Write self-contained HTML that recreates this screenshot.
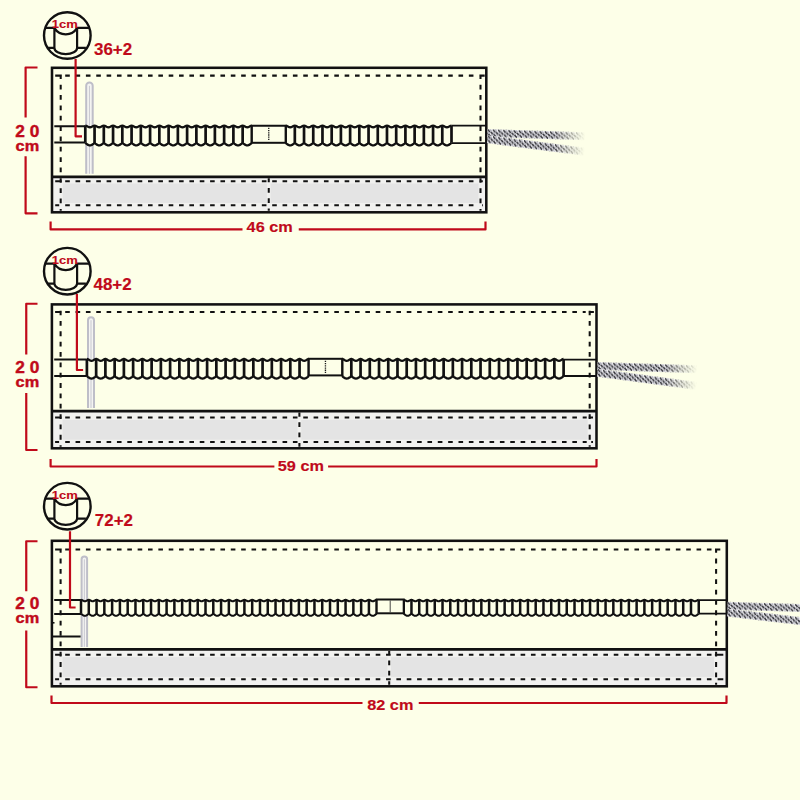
<!DOCTYPE html><html><head><meta charset="utf-8"><style>html,body{margin:0;padding:0;background:#FDFFE8;}svg{display:block;font-family:"Liberation Sans",sans-serif;}</style></head><body>
<svg width="800" height="800" viewBox="0 0 800 800">
<defs>
<pattern id="braid" width="5.2" height="8" patternUnits="userSpaceOnUse" y="-4"><rect width="5.2" height="8" fill="#EEEEF0"/><path d="M0.6,0.9 L2.0,2.4 M3.6,3.2 L5.0,4.7 M-1.6,3.2 L-0.2,4.7 M1.5,5.6 L2.9,7.1" stroke="#2E2E34" stroke-width="1.5" stroke-linecap="round"/><path d="M2.9,0.9 L4.1,2.2 M0.9,3.3 L2.1,4.6 M4.0,5.8 L5.2,7.1 M-1.2,5.8 L0,7.1" stroke="#A0A0AE" stroke-width="0.9" stroke-linecap="round"/></pattern>
<linearGradient id="grr1" x1="0" y1="0" x2="98" y2="0" gradientUnits="userSpaceOnUse"><stop offset="0" stop-color="#fff"/><stop offset="0.68" stop-color="#fff"/><stop offset="1" stop-color="#000"/></linearGradient>
<mask id="mr1" maskUnits="userSpaceOnUse" x="-5" y="-20" width="108" height="40"><rect x="-5" y="-20" width="108" height="40" fill="url(#grr1)"/></mask>
<linearGradient id="grr2" x1="0" y1="0" x2="100" y2="0" gradientUnits="userSpaceOnUse"><stop offset="0" stop-color="#fff"/><stop offset="0.68" stop-color="#fff"/><stop offset="1" stop-color="#000"/></linearGradient>
<mask id="mr2" maskUnits="userSpaceOnUse" x="-5" y="-20" width="110" height="40"><rect x="-5" y="-20" width="110" height="40" fill="url(#grr2)"/></mask>
<linearGradient id="grr3" x1="0" y1="0" x2="200" y2="0" gradientUnits="userSpaceOnUse"><stop offset="0" stop-color="#fff"/><stop offset="0.9" stop-color="#fff"/><stop offset="1" stop-color="#000"/></linearGradient>
<mask id="mr3" maskUnits="userSpaceOnUse" x="-5" y="-20" width="210" height="40"><rect x="-5" y="-20" width="210" height="40" fill="url(#grr3)"/></mask>
</defs>
<rect width="800" height="800" fill="#FDFFE8"/>
<rect x="52" y="176.8" width="434.3" height="35.5" fill="#F1F1EF"/><rect x="62.7" y="183.5" width="415.8" height="19.4" fill="#E4E4E4"/><line x1="268.75" y1="176.8" x2="268.75" y2="212.3" stroke="#F1F1EF" stroke-width="3.6"/><clipPath id="cp67"><rect x="52" y="176.8" width="434.3" height="35.5"/></clipPath><path d="M55.2,75.6H59.45 M65.2,75.6H69.8 M75.55,75.6H80.15 M85.9,75.6H90.5 M96.25,75.6H100.85 M106.6,75.6H111.2 M116.95,75.6H121.55 M127.3,75.6H131.9 M137.65,75.6H142.25 M148,75.6H152.6 M158.35,75.6H162.95 M168.7,75.6H173.3 M179.05,75.6H183.65 M189.4,75.6H194 M199.75,75.6H204.35 M210.1,75.6H214.7 M220.45,75.6H225.05 M230.8,75.6H235.4 M241.15,75.6H245.75 M251.5,75.6H256.1 M261.85,75.6H266.45 M272.2,75.6H276.8 M282.55,75.6H287.15 M292.9,75.6H297.5 M303.25,75.6H307.85 M313.6,75.6H318.2 M323.95,75.6H328.55 M334.3,75.6H338.9 M344.65,75.6H349.25 M355,75.6H359.6 M365.35,75.6H369.95 M375.7,75.6H380.3 M386.05,75.6H390.65 M396.4,75.6H401 M406.75,75.6H411.35 M417.1,75.6H421.7 M427.45,75.6H432.05 M437.8,75.6H442.4 M448.15,75.6H452.75 M458.5,75.6H463.1 M468.85,75.6H473.45 M55.2,75.6H61.8M60.7,74.5V78.9 M480.5,78.9V74.5M479.4,75.6H484.7 M60.7,84.7V89.5 M60.7,95.05V99.85 M60.7,105.4V110.2 M60.7,115.75V120.55 M60.7,126.1V130.9 M60.7,136.45V141.25 M60.7,146.8V151.6 M60.7,157.15V161.95 M60.7,167.5V172.3 M480.5,84.7V89.5 M480.5,95.05V99.85 M480.5,105.4V110.2 M480.5,115.75V120.55 M480.5,126.1V130.9 M480.5,136.45V141.25 M480.5,146.8V151.6 M480.5,157.15V161.95 M480.5,167.5V172.3 M60.7,178.3V182.65 M60.7,188.2V193 M60.7,198.55V203.35 M60.7,208.9V210.8 M480.5,178.3V182.65 M480.5,188.2V193 M480.5,198.55V203.35 M480.5,208.9V210.8 M65.2,181.2H69.8 M75.55,181.2H80.15 M85.9,181.2H90.5 M96.25,181.2H100.85 M106.6,181.2H111.2 M116.95,181.2H121.55 M127.3,181.2H131.9 M137.65,181.2H142.25 M148,181.2H152.6 M158.35,181.2H162.95 M168.7,181.2H173.3 M179.05,181.2H183.65 M189.4,181.2H194 M199.75,181.2H204.35 M210.1,181.2H214.7 M220.45,181.2H225.05 M230.8,181.2H235.4 M241.15,181.2H245.75 M251.5,181.2H256.1 M261.85,181.2H266.45 M272.2,181.2H276.8 M282.55,181.2H287.15 M292.9,181.2H297.5 M303.25,181.2H307.85 M313.6,181.2H318.2 M323.95,181.2H328.55 M334.3,181.2H338.9 M344.65,181.2H349.25 M355,181.2H359.6 M365.35,181.2H369.95 M375.7,181.2H380.3 M386.05,181.2H390.65 M396.4,181.2H401 M406.75,181.2H411.35 M417.1,181.2H421.7 M427.45,181.2H432.05 M437.8,181.2H442.4 M448.15,181.2H452.75 M458.5,181.2H463.1 M468.85,181.2H473.45 M65.2,205.2H69.8 M75.55,205.2H80.15 M85.9,205.2H90.5 M96.25,205.2H100.85 M106.6,205.2H111.2 M116.95,205.2H121.55 M127.3,205.2H131.9 M137.65,205.2H142.25 M148,205.2H152.6 M158.35,205.2H162.95 M168.7,205.2H173.3 M179.05,205.2H183.65 M189.4,205.2H194 M199.75,205.2H204.35 M210.1,205.2H214.7 M220.45,205.2H225.05 M230.8,205.2H235.4 M241.15,205.2H245.75 M251.5,205.2H256.1 M261.85,205.2H266.45 M272.2,205.2H276.8 M282.55,205.2H287.15 M292.9,205.2H297.5 M303.25,205.2H307.85 M313.6,205.2H318.2 M323.95,205.2H328.55 M334.3,205.2H338.9 M344.65,205.2H349.25 M355,205.2H359.6 M365.35,205.2H369.95 M375.7,205.2H380.3 M386.05,205.2H390.65 M396.4,205.2H401 M406.75,205.2H411.35 M417.1,205.2H421.7 M427.45,205.2H432.05 M437.8,205.2H442.4 M448.15,205.2H452.75 M458.5,205.2H463.1 M468.85,205.2H473.45 M55.2,181.2H61.9 M55.2,205.2H59.2 M479.3,181.2H482.8 M482,205.2H482.8 M268.75,178.3V182.35 M268.75,187.9V192.7 M268.75,198.25V203.05 M268.75,208.6V210.8" fill="none" stroke="#111" stroke-width="2.05"/><path d="M86.2,173.8 L86.2,85.85 A3.25,3.25 0 0 1 92.7,85.85 L92.7,173.8" fill="#F4F4F2" stroke="#BEBEC8" stroke-width="2"/><line x1="89.45" y1="85.85" x2="89.45" y2="173.8" stroke="#BEBEC8" stroke-width="0.8"/><path d="M54.3,126.2L85.3,126.2M54.3,142.5L85.3,142.5" stroke="#111" stroke-width="2" fill="none"/><path d="M85.3,125.6 L86.23,125.77 L87.15,126.22 L88.08,126.78 L89,127.23 L89.93,127.4 L90.85,127.23 L91.78,126.78 L92.7,126.22 L93.63,125.77 L94.56,125.6 L95.48,125.77 L96.41,126.22 L97.33,126.78 L98.26,127.23 L99.18,127.4 L100.11,127.23 L101.03,126.78 L101.96,126.22 L102.89,125.77 L103.81,125.6 L104.74,125.77 L105.66,126.22 L106.59,126.78 L107.51,127.23 L108.44,127.4 L109.36,127.23 L110.29,126.78 L111.22,126.22 L112.14,125.77 L113.07,125.6 L113.99,125.77 L114.92,126.22 L115.84,126.78 L116.77,127.23 L117.69,127.4 L118.62,127.23 L119.55,126.78 L120.47,126.22 L121.4,125.77 L122.32,125.6 L123.25,125.77 L124.17,126.22 L125.1,126.78 L126.02,127.23 L126.95,127.4 L127.88,127.23 L128.8,126.78 L129.73,126.22 L130.65,125.77 L131.58,125.6 L132.5,125.77 L133.43,126.22 L134.35,126.78 L135.28,127.23 L136.21,127.4 L137.13,127.23 L138.06,126.78 L138.98,126.22 L139.91,125.77 L140.83,125.6 L141.76,125.77 L142.68,126.22 L143.61,126.78 L144.54,127.23 L145.46,127.4 L146.39,127.23 L147.31,126.78 L148.24,126.22 L149.16,125.77 L150.09,125.6 L151.01,125.77 L151.94,126.22 L152.87,126.78 L153.79,127.23 L154.72,127.4 L155.64,127.23 L156.57,126.78 L157.49,126.22 L158.42,125.77 L159.34,125.6 L160.27,125.77 L161.2,126.22 L162.12,126.78 L163.05,127.23 L163.97,127.4 L164.9,127.23 L165.82,126.78 L166.75,126.22 L167.67,125.77 L168.6,125.6 L169.53,125.77 L170.45,126.22 L171.38,126.78 L172.3,127.23 L173.23,127.4 L174.15,127.23 L175.08,126.78 L176,126.22 L176.93,125.77 L177.86,125.6 L178.78,125.77 L179.71,126.22 L180.63,126.78 L181.56,127.23 L182.48,127.4 L183.41,127.23 L184.33,126.78 L185.26,126.22 L186.19,125.77 L187.11,125.6 L188.04,125.77 L188.96,126.22 L189.89,126.78 L190.81,127.23 L191.74,127.4 L192.66,127.23 L193.59,126.78 L194.52,126.22 L195.44,125.77 L196.37,125.6 L197.29,125.77 L198.22,126.22 L199.14,126.78 L200.07,127.23 L200.99,127.4 L201.92,127.23 L202.85,126.78 L203.77,126.22 L204.7,125.77 L205.62,125.6 L206.55,125.77 L207.47,126.22 L208.4,126.78 L209.32,127.23 L210.25,127.4 L211.18,127.23 L212.1,126.78 L213.03,126.22 L213.95,125.77 L214.88,125.6 L215.8,125.77 L216.73,126.22 L217.65,126.78 L218.58,127.23 L219.51,127.4 L220.43,127.23 L221.36,126.78 L222.28,126.22 L223.21,125.77 L224.13,125.6 L225.06,125.77 L225.98,126.22 L226.91,126.78 L227.84,127.23 L228.76,127.4 L229.69,127.23 L230.61,126.78 L231.54,126.22 L232.46,125.77 L233.39,125.6 L234.31,125.77 L235.24,126.22 L236.17,126.78 L237.09,127.23 L238.02,127.4 L238.94,127.23 L239.87,126.78 L240.79,126.22 L241.72,125.77 L242.64,125.6 L243.57,125.77 L244.5,126.22 L245.42,126.78 L246.35,127.23 L247.27,127.4 L248.2,127.23 L249.12,126.78 L250.05,126.22 L250.97,125.77 L251.9,125.6 L251.9,142.8 L250.97,143.6 L250.05,144.33 L249.12,144.9 L248.2,145.27 L247.27,145.4 L246.35,145.27 L245.42,144.9 L244.5,144.33 L243.57,143.6 L242.64,142.8 L241.72,143.6 L240.79,144.33 L239.87,144.9 L238.94,145.27 L238.02,145.4 L237.09,145.27 L236.17,144.9 L235.24,144.33 L234.31,143.6 L233.39,142.8 L232.46,143.6 L231.54,144.33 L230.61,144.9 L229.69,145.27 L228.76,145.4 L227.84,145.27 L226.91,144.9 L225.98,144.33 L225.06,143.6 L224.13,142.8 L223.21,143.6 L222.28,144.33 L221.36,144.9 L220.43,145.27 L219.51,145.4 L218.58,145.27 L217.65,144.9 L216.73,144.33 L215.8,143.6 L214.88,142.8 L213.95,143.6 L213.03,144.33 L212.1,144.9 L211.18,145.27 L210.25,145.4 L209.32,145.27 L208.4,144.9 L207.47,144.33 L206.55,143.6 L205.62,142.8 L204.7,143.6 L203.77,144.33 L202.85,144.9 L201.92,145.27 L200.99,145.4 L200.07,145.27 L199.14,144.9 L198.22,144.33 L197.29,143.6 L196.37,142.8 L195.44,143.6 L194.52,144.33 L193.59,144.9 L192.66,145.27 L191.74,145.4 L190.81,145.27 L189.89,144.9 L188.96,144.33 L188.04,143.6 L187.11,142.8 L186.19,143.6 L185.26,144.33 L184.33,144.9 L183.41,145.27 L182.48,145.4 L181.56,145.27 L180.63,144.9 L179.71,144.33 L178.78,143.6 L177.86,142.8 L176.93,143.6 L176,144.33 L175.08,144.9 L174.15,145.27 L173.23,145.4 L172.3,145.27 L171.38,144.9 L170.45,144.33 L169.53,143.6 L168.6,142.8 L167.67,143.6 L166.75,144.33 L165.82,144.9 L164.9,145.27 L163.97,145.4 L163.05,145.27 L162.12,144.9 L161.2,144.33 L160.27,143.6 L159.34,142.8 L158.42,143.6 L157.49,144.33 L156.57,144.9 L155.64,145.27 L154.72,145.4 L153.79,145.27 L152.87,144.9 L151.94,144.33 L151.01,143.6 L150.09,142.8 L149.16,143.6 L148.24,144.33 L147.31,144.9 L146.39,145.27 L145.46,145.4 L144.54,145.27 L143.61,144.9 L142.68,144.33 L141.76,143.6 L140.83,142.8 L139.91,143.6 L138.98,144.33 L138.06,144.9 L137.13,145.27 L136.21,145.4 L135.28,145.27 L134.35,144.9 L133.43,144.33 L132.5,143.6 L131.58,142.8 L130.65,143.6 L129.73,144.33 L128.8,144.9 L127.88,145.27 L126.95,145.4 L126.02,145.27 L125.1,144.9 L124.17,144.33 L123.25,143.6 L122.32,142.8 L121.4,143.6 L120.47,144.33 L119.55,144.9 L118.62,145.27 L117.69,145.4 L116.77,145.27 L115.84,144.9 L114.92,144.33 L113.99,143.6 L113.07,142.8 L112.14,143.6 L111.22,144.33 L110.29,144.9 L109.36,145.27 L108.44,145.4 L107.51,145.27 L106.59,144.9 L105.66,144.33 L104.74,143.6 L103.81,142.8 L102.89,143.6 L101.96,144.33 L101.03,144.9 L100.11,145.27 L99.18,145.4 L98.26,145.27 L97.33,144.9 L96.41,144.33 L95.48,143.6 L94.56,142.8 L93.63,143.6 L92.7,144.33 L91.78,144.9 L90.85,145.27 L89.93,145.4 L89,145.27 L88.08,144.9 L87.15,144.33 L86.23,143.6 L85.3,142.8 Z" fill="#FDFFE8"/><path d="M85.3,125.6 L86.23,125.77 L87.15,126.22 L88.08,126.78 L89,127.23 L89.93,127.4 L90.85,127.23 L91.78,126.78 L92.7,126.22 L93.63,125.77 L94.56,125.6 L95.48,125.77 L96.41,126.22 L97.33,126.78 L98.26,127.23 L99.18,127.4 L100.11,127.23 L101.03,126.78 L101.96,126.22 L102.89,125.77 L103.81,125.6 L104.74,125.77 L105.66,126.22 L106.59,126.78 L107.51,127.23 L108.44,127.4 L109.36,127.23 L110.29,126.78 L111.22,126.22 L112.14,125.77 L113.07,125.6 L113.99,125.77 L114.92,126.22 L115.84,126.78 L116.77,127.23 L117.69,127.4 L118.62,127.23 L119.55,126.78 L120.47,126.22 L121.4,125.77 L122.32,125.6 L123.25,125.77 L124.17,126.22 L125.1,126.78 L126.02,127.23 L126.95,127.4 L127.88,127.23 L128.8,126.78 L129.73,126.22 L130.65,125.77 L131.58,125.6 L132.5,125.77 L133.43,126.22 L134.35,126.78 L135.28,127.23 L136.21,127.4 L137.13,127.23 L138.06,126.78 L138.98,126.22 L139.91,125.77 L140.83,125.6 L141.76,125.77 L142.68,126.22 L143.61,126.78 L144.54,127.23 L145.46,127.4 L146.39,127.23 L147.31,126.78 L148.24,126.22 L149.16,125.77 L150.09,125.6 L151.01,125.77 L151.94,126.22 L152.87,126.78 L153.79,127.23 L154.72,127.4 L155.64,127.23 L156.57,126.78 L157.49,126.22 L158.42,125.77 L159.34,125.6 L160.27,125.77 L161.2,126.22 L162.12,126.78 L163.05,127.23 L163.97,127.4 L164.9,127.23 L165.82,126.78 L166.75,126.22 L167.67,125.77 L168.6,125.6 L169.53,125.77 L170.45,126.22 L171.38,126.78 L172.3,127.23 L173.23,127.4 L174.15,127.23 L175.08,126.78 L176,126.22 L176.93,125.77 L177.86,125.6 L178.78,125.77 L179.71,126.22 L180.63,126.78 L181.56,127.23 L182.48,127.4 L183.41,127.23 L184.33,126.78 L185.26,126.22 L186.19,125.77 L187.11,125.6 L188.04,125.77 L188.96,126.22 L189.89,126.78 L190.81,127.23 L191.74,127.4 L192.66,127.23 L193.59,126.78 L194.52,126.22 L195.44,125.77 L196.37,125.6 L197.29,125.77 L198.22,126.22 L199.14,126.78 L200.07,127.23 L200.99,127.4 L201.92,127.23 L202.85,126.78 L203.77,126.22 L204.7,125.77 L205.62,125.6 L206.55,125.77 L207.47,126.22 L208.4,126.78 L209.32,127.23 L210.25,127.4 L211.18,127.23 L212.1,126.78 L213.03,126.22 L213.95,125.77 L214.88,125.6 L215.8,125.77 L216.73,126.22 L217.65,126.78 L218.58,127.23 L219.51,127.4 L220.43,127.23 L221.36,126.78 L222.28,126.22 L223.21,125.77 L224.13,125.6 L225.06,125.77 L225.98,126.22 L226.91,126.78 L227.84,127.23 L228.76,127.4 L229.69,127.23 L230.61,126.78 L231.54,126.22 L232.46,125.77 L233.39,125.6 L234.31,125.77 L235.24,126.22 L236.17,126.78 L237.09,127.23 L238.02,127.4 L238.94,127.23 L239.87,126.78 L240.79,126.22 L241.72,125.77 L242.64,125.6 L243.57,125.77 L244.5,126.22 L245.42,126.78 L246.35,127.23 L247.27,127.4 L248.2,127.23 L249.12,126.78 L250.05,126.22 L250.97,125.77 L251.9,125.6 M85.3,142.8 L86.23,143.6 L87.15,144.33 L88.08,144.9 L89,145.27 L89.93,145.4 L90.85,145.27 L91.78,144.9 L92.7,144.33 L93.63,143.6 L94.56,142.8 L95.48,143.6 L96.41,144.33 L97.33,144.9 L98.26,145.27 L99.18,145.4 L100.11,145.27 L101.03,144.9 L101.96,144.33 L102.89,143.6 L103.81,142.8 L104.74,143.6 L105.66,144.33 L106.59,144.9 L107.51,145.27 L108.44,145.4 L109.36,145.27 L110.29,144.9 L111.22,144.33 L112.14,143.6 L113.07,142.8 L113.99,143.6 L114.92,144.33 L115.84,144.9 L116.77,145.27 L117.69,145.4 L118.62,145.27 L119.55,144.9 L120.47,144.33 L121.4,143.6 L122.32,142.8 L123.25,143.6 L124.17,144.33 L125.1,144.9 L126.02,145.27 L126.95,145.4 L127.88,145.27 L128.8,144.9 L129.73,144.33 L130.65,143.6 L131.58,142.8 L132.5,143.6 L133.43,144.33 L134.35,144.9 L135.28,145.27 L136.21,145.4 L137.13,145.27 L138.06,144.9 L138.98,144.33 L139.91,143.6 L140.83,142.8 L141.76,143.6 L142.68,144.33 L143.61,144.9 L144.54,145.27 L145.46,145.4 L146.39,145.27 L147.31,144.9 L148.24,144.33 L149.16,143.6 L150.09,142.8 L151.01,143.6 L151.94,144.33 L152.87,144.9 L153.79,145.27 L154.72,145.4 L155.64,145.27 L156.57,144.9 L157.49,144.33 L158.42,143.6 L159.34,142.8 L160.27,143.6 L161.2,144.33 L162.12,144.9 L163.05,145.27 L163.97,145.4 L164.9,145.27 L165.82,144.9 L166.75,144.33 L167.67,143.6 L168.6,142.8 L169.53,143.6 L170.45,144.33 L171.38,144.9 L172.3,145.27 L173.23,145.4 L174.15,145.27 L175.08,144.9 L176,144.33 L176.93,143.6 L177.86,142.8 L178.78,143.6 L179.71,144.33 L180.63,144.9 L181.56,145.27 L182.48,145.4 L183.41,145.27 L184.33,144.9 L185.26,144.33 L186.19,143.6 L187.11,142.8 L188.04,143.6 L188.96,144.33 L189.89,144.9 L190.81,145.27 L191.74,145.4 L192.66,145.27 L193.59,144.9 L194.52,144.33 L195.44,143.6 L196.37,142.8 L197.29,143.6 L198.22,144.33 L199.14,144.9 L200.07,145.27 L200.99,145.4 L201.92,145.27 L202.85,144.9 L203.77,144.33 L204.7,143.6 L205.62,142.8 L206.55,143.6 L207.47,144.33 L208.4,144.9 L209.32,145.27 L210.25,145.4 L211.18,145.27 L212.1,144.9 L213.03,144.33 L213.95,143.6 L214.88,142.8 L215.8,143.6 L216.73,144.33 L217.65,144.9 L218.58,145.27 L219.51,145.4 L220.43,145.27 L221.36,144.9 L222.28,144.33 L223.21,143.6 L224.13,142.8 L225.06,143.6 L225.98,144.33 L226.91,144.9 L227.84,145.27 L228.76,145.4 L229.69,145.27 L230.61,144.9 L231.54,144.33 L232.46,143.6 L233.39,142.8 L234.31,143.6 L235.24,144.33 L236.17,144.9 L237.09,145.27 L238.02,145.4 L238.94,145.27 L239.87,144.9 L240.79,144.33 L241.72,143.6 L242.64,142.8 L243.57,143.6 L244.5,144.33 L245.42,144.9 L246.35,145.27 L247.27,145.4 L248.2,145.27 L249.12,144.9 L250.05,144.33 L250.97,143.6 L251.9,142.8" fill="none" stroke="#111" stroke-width="2.3" stroke-linejoin="round"/><path d="M85.3,125.6L85.3,142.8M94.56,125.6L94.56,142.8M103.81,125.6L103.81,142.8M113.07,125.6L113.07,142.8M122.32,125.6L122.32,142.8M131.58,125.6L131.58,142.8M140.83,125.6L140.83,142.8M150.09,125.6L150.09,142.8M159.34,125.6L159.34,142.8M168.6,125.6L168.6,142.8M177.86,125.6L177.86,142.8M187.11,125.6L187.11,142.8M196.37,125.6L196.37,142.8M205.62,125.6L205.62,142.8M214.88,125.6L214.88,142.8M224.13,125.6L224.13,142.8M233.39,125.6L233.39,142.8M242.64,125.6L242.64,142.8M251.9,125.6L251.9,142.8" fill="none" stroke="#111" stroke-width="2.7"/><path d="M285.6,125.6 L286.52,125.77 L287.44,126.22 L288.37,126.78 L289.29,127.23 L290.21,127.4 L291.13,127.23 L292.05,126.78 L292.97,126.22 L293.9,125.77 L294.82,125.6 L295.74,125.77 L296.66,126.22 L297.58,126.78 L298.5,127.23 L299.43,127.4 L300.35,127.23 L301.27,126.78 L302.19,126.22 L303.11,125.77 L304.03,125.6 L304.96,125.77 L305.88,126.22 L306.8,126.78 L307.72,127.23 L308.64,127.4 L309.56,127.23 L310.49,126.78 L311.41,126.22 L312.33,125.77 L313.25,125.6 L314.17,125.77 L315.09,126.22 L316.01,126.78 L316.94,127.23 L317.86,127.4 L318.78,127.23 L319.7,126.78 L320.62,126.22 L321.55,125.77 L322.47,125.6 L323.39,125.77 L324.31,126.22 L325.23,126.78 L326.15,127.23 L327.08,127.4 L328,127.23 L328.92,126.78 L329.84,126.22 L330.76,125.77 L331.68,125.6 L332.61,125.77 L333.53,126.22 L334.45,126.78 L335.37,127.23 L336.29,127.4 L337.21,127.23 L338.13,126.78 L339.06,126.22 L339.98,125.77 L340.9,125.6 L341.82,125.77 L342.74,126.22 L343.67,126.78 L344.59,127.23 L345.51,127.4 L346.43,127.23 L347.35,126.78 L348.27,126.22 L349.19,125.77 L350.12,125.6 L351.04,125.77 L351.96,126.22 L352.88,126.78 L353.8,127.23 L354.73,127.4 L355.65,127.23 L356.57,126.78 L357.49,126.22 L358.41,125.77 L359.33,125.6 L360.25,125.77 L361.18,126.22 L362.1,126.78 L363.02,127.23 L363.94,127.4 L364.86,127.23 L365.78,126.78 L366.71,126.22 L367.63,125.77 L368.55,125.6 L369.47,125.77 L370.39,126.22 L371.31,126.78 L372.24,127.23 L373.16,127.4 L374.08,127.23 L375,126.78 L375.92,126.22 L376.85,125.77 L377.77,125.6 L378.69,125.77 L379.61,126.22 L380.53,126.78 L381.45,127.23 L382.38,127.4 L383.3,127.23 L384.22,126.78 L385.14,126.22 L386.06,125.77 L386.98,125.6 L387.9,125.77 L388.83,126.22 L389.75,126.78 L390.67,127.23 L391.59,127.4 L392.51,127.23 L393.44,126.78 L394.36,126.22 L395.28,125.77 L396.2,125.6 L397.12,125.77 L398.04,126.22 L398.97,126.78 L399.89,127.23 L400.81,127.4 L401.73,127.23 L402.65,126.78 L403.57,126.22 L404.5,125.77 L405.42,125.6 L406.34,125.77 L407.26,126.22 L408.18,126.78 L409.1,127.23 L410.02,127.4 L410.95,127.23 L411.87,126.78 L412.79,126.22 L413.71,125.77 L414.63,125.6 L415.56,125.77 L416.48,126.22 L417.4,126.78 L418.32,127.23 L419.24,127.4 L420.16,127.23 L421.08,126.78 L422.01,126.22 L422.93,125.77 L423.85,125.6 L424.77,125.77 L425.69,126.22 L426.62,126.78 L427.54,127.23 L428.46,127.4 L429.38,127.23 L430.3,126.78 L431.22,126.22 L432.14,125.77 L433.07,125.6 L433.99,125.77 L434.91,126.22 L435.83,126.78 L436.75,127.23 L437.67,127.4 L438.6,127.23 L439.52,126.78 L440.44,126.22 L441.36,125.77 L442.28,125.6 L443.21,125.77 L444.13,126.22 L445.05,126.78 L445.97,127.23 L446.89,127.4 L447.81,127.23 L448.74,126.78 L449.66,126.22 L450.58,125.77 L451.5,125.6 L451.5,142.8 L450.58,143.6 L449.66,144.33 L448.74,144.9 L447.81,145.27 L446.89,145.4 L445.97,145.27 L445.05,144.9 L444.13,144.33 L443.21,143.6 L442.28,142.8 L441.36,143.6 L440.44,144.33 L439.52,144.9 L438.6,145.27 L437.67,145.4 L436.75,145.27 L435.83,144.9 L434.91,144.33 L433.99,143.6 L433.07,142.8 L432.14,143.6 L431.22,144.33 L430.3,144.9 L429.38,145.27 L428.46,145.4 L427.54,145.27 L426.62,144.9 L425.69,144.33 L424.77,143.6 L423.85,142.8 L422.93,143.6 L422.01,144.33 L421.08,144.9 L420.16,145.27 L419.24,145.4 L418.32,145.27 L417.4,144.9 L416.48,144.33 L415.56,143.6 L414.63,142.8 L413.71,143.6 L412.79,144.33 L411.87,144.9 L410.95,145.27 L410.02,145.4 L409.1,145.27 L408.18,144.9 L407.26,144.33 L406.34,143.6 L405.42,142.8 L404.5,143.6 L403.57,144.33 L402.65,144.9 L401.73,145.27 L400.81,145.4 L399.89,145.27 L398.97,144.9 L398.04,144.33 L397.12,143.6 L396.2,142.8 L395.28,143.6 L394.36,144.33 L393.44,144.9 L392.51,145.27 L391.59,145.4 L390.67,145.27 L389.75,144.9 L388.83,144.33 L387.9,143.6 L386.98,142.8 L386.06,143.6 L385.14,144.33 L384.22,144.9 L383.3,145.27 L382.38,145.4 L381.45,145.27 L380.53,144.9 L379.61,144.33 L378.69,143.6 L377.77,142.8 L376.85,143.6 L375.92,144.33 L375,144.9 L374.08,145.27 L373.16,145.4 L372.24,145.27 L371.31,144.9 L370.39,144.33 L369.47,143.6 L368.55,142.8 L367.63,143.6 L366.71,144.33 L365.78,144.9 L364.86,145.27 L363.94,145.4 L363.02,145.27 L362.1,144.9 L361.18,144.33 L360.25,143.6 L359.33,142.8 L358.41,143.6 L357.49,144.33 L356.57,144.9 L355.65,145.27 L354.73,145.4 L353.8,145.27 L352.88,144.9 L351.96,144.33 L351.04,143.6 L350.12,142.8 L349.19,143.6 L348.27,144.33 L347.35,144.9 L346.43,145.27 L345.51,145.4 L344.59,145.27 L343.67,144.9 L342.74,144.33 L341.82,143.6 L340.9,142.8 L339.98,143.6 L339.06,144.33 L338.13,144.9 L337.21,145.27 L336.29,145.4 L335.37,145.27 L334.45,144.9 L333.53,144.33 L332.61,143.6 L331.68,142.8 L330.76,143.6 L329.84,144.33 L328.92,144.9 L328,145.27 L327.08,145.4 L326.15,145.27 L325.23,144.9 L324.31,144.33 L323.39,143.6 L322.47,142.8 L321.55,143.6 L320.62,144.33 L319.7,144.9 L318.78,145.27 L317.86,145.4 L316.94,145.27 L316.01,144.9 L315.09,144.33 L314.17,143.6 L313.25,142.8 L312.33,143.6 L311.41,144.33 L310.49,144.9 L309.56,145.27 L308.64,145.4 L307.72,145.27 L306.8,144.9 L305.88,144.33 L304.96,143.6 L304.03,142.8 L303.11,143.6 L302.19,144.33 L301.27,144.9 L300.35,145.27 L299.43,145.4 L298.5,145.27 L297.58,144.9 L296.66,144.33 L295.74,143.6 L294.82,142.8 L293.9,143.6 L292.97,144.33 L292.05,144.9 L291.13,145.27 L290.21,145.4 L289.29,145.27 L288.37,144.9 L287.44,144.33 L286.52,143.6 L285.6,142.8 Z" fill="#FDFFE8"/><path d="M285.6,125.6 L286.52,125.77 L287.44,126.22 L288.37,126.78 L289.29,127.23 L290.21,127.4 L291.13,127.23 L292.05,126.78 L292.97,126.22 L293.9,125.77 L294.82,125.6 L295.74,125.77 L296.66,126.22 L297.58,126.78 L298.5,127.23 L299.43,127.4 L300.35,127.23 L301.27,126.78 L302.19,126.22 L303.11,125.77 L304.03,125.6 L304.96,125.77 L305.88,126.22 L306.8,126.78 L307.72,127.23 L308.64,127.4 L309.56,127.23 L310.49,126.78 L311.41,126.22 L312.33,125.77 L313.25,125.6 L314.17,125.77 L315.09,126.22 L316.01,126.78 L316.94,127.23 L317.86,127.4 L318.78,127.23 L319.7,126.78 L320.62,126.22 L321.55,125.77 L322.47,125.6 L323.39,125.77 L324.31,126.22 L325.23,126.78 L326.15,127.23 L327.08,127.4 L328,127.23 L328.92,126.78 L329.84,126.22 L330.76,125.77 L331.68,125.6 L332.61,125.77 L333.53,126.22 L334.45,126.78 L335.37,127.23 L336.29,127.4 L337.21,127.23 L338.13,126.78 L339.06,126.22 L339.98,125.77 L340.9,125.6 L341.82,125.77 L342.74,126.22 L343.67,126.78 L344.59,127.23 L345.51,127.4 L346.43,127.23 L347.35,126.78 L348.27,126.22 L349.19,125.77 L350.12,125.6 L351.04,125.77 L351.96,126.22 L352.88,126.78 L353.8,127.23 L354.73,127.4 L355.65,127.23 L356.57,126.78 L357.49,126.22 L358.41,125.77 L359.33,125.6 L360.25,125.77 L361.18,126.22 L362.1,126.78 L363.02,127.23 L363.94,127.4 L364.86,127.23 L365.78,126.78 L366.71,126.22 L367.63,125.77 L368.55,125.6 L369.47,125.77 L370.39,126.22 L371.31,126.78 L372.24,127.23 L373.16,127.4 L374.08,127.23 L375,126.78 L375.92,126.22 L376.85,125.77 L377.77,125.6 L378.69,125.77 L379.61,126.22 L380.53,126.78 L381.45,127.23 L382.38,127.4 L383.3,127.23 L384.22,126.78 L385.14,126.22 L386.06,125.77 L386.98,125.6 L387.9,125.77 L388.83,126.22 L389.75,126.78 L390.67,127.23 L391.59,127.4 L392.51,127.23 L393.44,126.78 L394.36,126.22 L395.28,125.77 L396.2,125.6 L397.12,125.77 L398.04,126.22 L398.97,126.78 L399.89,127.23 L400.81,127.4 L401.73,127.23 L402.65,126.78 L403.57,126.22 L404.5,125.77 L405.42,125.6 L406.34,125.77 L407.26,126.22 L408.18,126.78 L409.1,127.23 L410.02,127.4 L410.95,127.23 L411.87,126.78 L412.79,126.22 L413.71,125.77 L414.63,125.6 L415.56,125.77 L416.48,126.22 L417.4,126.78 L418.32,127.23 L419.24,127.4 L420.16,127.23 L421.08,126.78 L422.01,126.22 L422.93,125.77 L423.85,125.6 L424.77,125.77 L425.69,126.22 L426.62,126.78 L427.54,127.23 L428.46,127.4 L429.38,127.23 L430.3,126.78 L431.22,126.22 L432.14,125.77 L433.07,125.6 L433.99,125.77 L434.91,126.22 L435.83,126.78 L436.75,127.23 L437.67,127.4 L438.6,127.23 L439.52,126.78 L440.44,126.22 L441.36,125.77 L442.28,125.6 L443.21,125.77 L444.13,126.22 L445.05,126.78 L445.97,127.23 L446.89,127.4 L447.81,127.23 L448.74,126.78 L449.66,126.22 L450.58,125.77 L451.5,125.6 M285.6,142.8 L286.52,143.6 L287.44,144.33 L288.37,144.9 L289.29,145.27 L290.21,145.4 L291.13,145.27 L292.05,144.9 L292.97,144.33 L293.9,143.6 L294.82,142.8 L295.74,143.6 L296.66,144.33 L297.58,144.9 L298.5,145.27 L299.43,145.4 L300.35,145.27 L301.27,144.9 L302.19,144.33 L303.11,143.6 L304.03,142.8 L304.96,143.6 L305.88,144.33 L306.8,144.9 L307.72,145.27 L308.64,145.4 L309.56,145.27 L310.49,144.9 L311.41,144.33 L312.33,143.6 L313.25,142.8 L314.17,143.6 L315.09,144.33 L316.01,144.9 L316.94,145.27 L317.86,145.4 L318.78,145.27 L319.7,144.9 L320.62,144.33 L321.55,143.6 L322.47,142.8 L323.39,143.6 L324.31,144.33 L325.23,144.9 L326.15,145.27 L327.08,145.4 L328,145.27 L328.92,144.9 L329.84,144.33 L330.76,143.6 L331.68,142.8 L332.61,143.6 L333.53,144.33 L334.45,144.9 L335.37,145.27 L336.29,145.4 L337.21,145.27 L338.13,144.9 L339.06,144.33 L339.98,143.6 L340.9,142.8 L341.82,143.6 L342.74,144.33 L343.67,144.9 L344.59,145.27 L345.51,145.4 L346.43,145.27 L347.35,144.9 L348.27,144.33 L349.19,143.6 L350.12,142.8 L351.04,143.6 L351.96,144.33 L352.88,144.9 L353.8,145.27 L354.73,145.4 L355.65,145.27 L356.57,144.9 L357.49,144.33 L358.41,143.6 L359.33,142.8 L360.25,143.6 L361.18,144.33 L362.1,144.9 L363.02,145.27 L363.94,145.4 L364.86,145.27 L365.78,144.9 L366.71,144.33 L367.63,143.6 L368.55,142.8 L369.47,143.6 L370.39,144.33 L371.31,144.9 L372.24,145.27 L373.16,145.4 L374.08,145.27 L375,144.9 L375.92,144.33 L376.85,143.6 L377.77,142.8 L378.69,143.6 L379.61,144.33 L380.53,144.9 L381.45,145.27 L382.38,145.4 L383.3,145.27 L384.22,144.9 L385.14,144.33 L386.06,143.6 L386.98,142.8 L387.9,143.6 L388.83,144.33 L389.75,144.9 L390.67,145.27 L391.59,145.4 L392.51,145.27 L393.44,144.9 L394.36,144.33 L395.28,143.6 L396.2,142.8 L397.12,143.6 L398.04,144.33 L398.97,144.9 L399.89,145.27 L400.81,145.4 L401.73,145.27 L402.65,144.9 L403.57,144.33 L404.5,143.6 L405.42,142.8 L406.34,143.6 L407.26,144.33 L408.18,144.9 L409.1,145.27 L410.02,145.4 L410.95,145.27 L411.87,144.9 L412.79,144.33 L413.71,143.6 L414.63,142.8 L415.56,143.6 L416.48,144.33 L417.4,144.9 L418.32,145.27 L419.24,145.4 L420.16,145.27 L421.08,144.9 L422.01,144.33 L422.93,143.6 L423.85,142.8 L424.77,143.6 L425.69,144.33 L426.62,144.9 L427.54,145.27 L428.46,145.4 L429.38,145.27 L430.3,144.9 L431.22,144.33 L432.14,143.6 L433.07,142.8 L433.99,143.6 L434.91,144.33 L435.83,144.9 L436.75,145.27 L437.67,145.4 L438.6,145.27 L439.52,144.9 L440.44,144.33 L441.36,143.6 L442.28,142.8 L443.21,143.6 L444.13,144.33 L445.05,144.9 L445.97,145.27 L446.89,145.4 L447.81,145.27 L448.74,144.9 L449.66,144.33 L450.58,143.6 L451.5,142.8" fill="none" stroke="#111" stroke-width="2.3" stroke-linejoin="round"/><path d="M285.6,125.6L285.6,142.8M294.82,125.6L294.82,142.8M304.03,125.6L304.03,142.8M313.25,125.6L313.25,142.8M322.47,125.6L322.47,142.8M331.68,125.6L331.68,142.8M340.9,125.6L340.9,142.8M350.12,125.6L350.12,142.8M359.33,125.6L359.33,142.8M368.55,125.6L368.55,142.8M377.77,125.6L377.77,142.8M386.98,125.6L386.98,142.8M396.2,125.6L396.2,142.8M405.42,125.6L405.42,142.8M414.63,125.6L414.63,142.8M423.85,125.6L423.85,142.8M433.07,125.6L433.07,142.8M442.28,125.6L442.28,142.8M451.5,125.6L451.5,142.8" fill="none" stroke="#111" stroke-width="2.7"/><rect x="251.9" y="125.75" width="33.7" height="17.05" fill="#FDFFE8" stroke="#111" stroke-width="2"/><line x1="268.75" y1="127.75" x2="268.75" y2="140.8" stroke="#1A1A1A" stroke-width="1.35" stroke-dasharray="1.3 0.9"/><path d="M451.5,125.6L486.3,125.6M451.5,143.1L486.3,143.1" stroke="#111" stroke-width="1.8" fill="none"/><rect x="52" y="67.8" width="434.3" height="144.5" fill="none" stroke="#111" stroke-width="2.55"/><line x1="52" y1="176.8" x2="486.3" y2="176.8" stroke="#111" stroke-width="2.7"/><g transform="translate(487.5,133) rotate(1.94)" mask="url(#mr1)"><rect x="0" y="-4" width="97.56" height="8" fill="url(#braid)"/></g><g transform="translate(487.5,139.2) rotate(7.36)" mask="url(#mr1)"><rect x="0" y="-4" width="98.31" height="8" fill="url(#braid)"/></g><g transform="translate(67.3,35.5)"><circle r="23.3" fill="#FDFFE8" stroke="#111" stroke-width="2.4"/><path d="M-22.2,-7.6 L-12.9,-7.6 A13.2,13.2 0 0 0 9.8,-7.6 L22.2,-7.6 M-12.9,-7.6 L-12.9,12.6 M9.8,-7.6 L9.8,12.6 M-19.6,12.4 L-12.9,12.4 A11.35,6.2 0 0 0 9.8,12.4 L18.6,12.4" fill="none" stroke="#111" stroke-width="2.2"/><text x="-2.5" y="-7.2" text-anchor="middle" font-size="10.6" font-weight="bold" fill="#C00A1A" stroke="#C00A1A" stroke-width="0.1" textLength="26" lengthAdjust="spacingAndGlyphs">1cm</text></g><text x="94" y="55.3" font-size="16.3" font-weight="bold" fill="#C00A1A" stroke="#C00A1A" stroke-width="0.15" textLength="38.2" lengthAdjust="spacingAndGlyphs">36+2</text><path d="M75.6,59L75.6,136.3L82,136.3" fill="none" stroke="#C00A1A" stroke-width="2.2" stroke-linejoin="round"/><path d="M37.5,67.5L25.6,67.5L25.6,117.5M25.6,156.3L25.6,213.3L37.5,213.3" fill="none" stroke="#C00A1A" stroke-width="2.2" stroke-linejoin="round"/><text x="27.3" y="137.3" text-anchor="middle" font-size="16" font-weight="bold" fill="#C00A1A" stroke="#C00A1A" stroke-width="0.4" textLength="24" lengthAdjust="spacingAndGlyphs">2 0</text><text x="27.4" y="151" text-anchor="middle" font-size="15" font-weight="bold" fill="#C00A1A" stroke="#C00A1A" stroke-width="0.4" textLength="23.6" lengthAdjust="spacingAndGlyphs">cm</text><path d="M50.6,221.5L50.6,229.4L242.5,229.4M298.75,229.4L485.5,229.4L485.5,221.5" fill="none" stroke="#C00A1A" stroke-width="2.2" stroke-linejoin="round"/><text x="269.7" y="232" text-anchor="middle" font-size="15.2" font-weight="bold" fill="#C00A1A" stroke="#C00A1A" stroke-width="0.15" textLength="46.2" lengthAdjust="spacingAndGlyphs">46 cm</text>
<rect x="51.9" y="411.1" width="544.6" height="37.2" fill="#F1F1EF"/><rect x="62.6" y="419.8" width="525.1" height="19.9" fill="#E4E4E4"/><line x1="299.4" y1="411.1" x2="299.4" y2="448.3" stroke="#F1F1EF" stroke-width="3.6"/><clipPath id="cp304"><rect x="51.9" y="411.1" width="544.6" height="37.2"/></clipPath><path d="M55.1,311.9H59.45 M65.2,311.9H69.8 M75.55,311.9H80.15 M85.9,311.9H90.5 M96.25,311.9H100.85 M106.6,311.9H111.2 M116.95,311.9H121.55 M127.3,311.9H131.9 M137.65,311.9H142.25 M148,311.9H152.6 M158.35,311.9H162.95 M168.7,311.9H173.3 M179.05,311.9H183.65 M189.4,311.9H194 M199.75,311.9H204.35 M210.1,311.9H214.7 M220.45,311.9H225.05 M230.8,311.9H235.4 M241.15,311.9H245.75 M251.5,311.9H256.1 M261.85,311.9H266.45 M272.2,311.9H276.8 M282.55,311.9H287.15 M292.9,311.9H297.5 M303.25,311.9H307.85 M313.6,311.9H318.2 M323.95,311.9H328.55 M334.3,311.9H338.9 M344.65,311.9H349.25 M355,311.9H359.6 M365.35,311.9H369.95 M375.7,311.9H380.3 M386.05,311.9H390.65 M396.4,311.9H401 M406.75,311.9H411.35 M417.1,311.9H421.7 M427.45,311.9H432.05 M437.8,311.9H442.4 M448.15,311.9H452.75 M458.5,311.9H463.1 M468.85,311.9H473.45 M479.2,311.9H483.8 M489.55,311.9H494.15 M499.9,311.9H504.5 M510.25,311.9H514.85 M520.6,311.9H525.2 M530.95,311.9H535.55 M541.3,311.9H545.9 M551.65,311.9H556.25 M562,311.9H566.6 M572.35,311.9H576.95 M582.7,311.9H585.7 M55.1,311.9H61.7M60.6,310.8V315.2 M589.7,315.2V310.8M588.6,311.9H593.9 M60.6,321V325.8 M60.6,331.35V336.15 M60.6,341.7V346.5 M60.6,352.05V356.85 M60.6,362.4V367.2 M60.6,372.75V377.55 M60.6,383.1V387.9 M60.6,393.45V398.25 M60.6,403.8V408.6 M589.7,321V325.8 M589.7,331.35V336.15 M589.7,341.7V346.5 M589.7,352.05V356.85 M589.7,362.4V367.2 M589.7,372.75V377.55 M589.7,383.1V387.9 M589.7,393.45V398.25 M589.7,403.8V408.6 M60.6,414.15V418.95 M60.6,424.5V429.3 M60.6,434.85V439.65 M60.6,445.2V446.8 M589.7,414.15V418.95 M589.7,424.5V429.3 M589.7,434.85V439.65 M589.7,445.2V446.8 M65.2,417.5H69.8 M75.55,417.5H80.15 M85.9,417.5H90.5 M96.25,417.5H100.85 M106.6,417.5H111.2 M116.95,417.5H121.55 M127.3,417.5H131.9 M137.65,417.5H142.25 M148,417.5H152.6 M158.35,417.5H162.95 M168.7,417.5H173.3 M179.05,417.5H183.65 M189.4,417.5H194 M199.75,417.5H204.35 M210.1,417.5H214.7 M220.45,417.5H225.05 M230.8,417.5H235.4 M241.15,417.5H245.75 M251.5,417.5H256.1 M261.85,417.5H266.45 M272.2,417.5H276.8 M282.55,417.5H287.15 M292.9,417.5H297.5 M303.25,417.5H307.85 M313.6,417.5H318.2 M323.95,417.5H328.55 M334.3,417.5H338.9 M344.65,417.5H349.25 M355,417.5H359.6 M365.35,417.5H369.95 M375.7,417.5H380.3 M386.05,417.5H390.65 M396.4,417.5H401 M406.75,417.5H411.35 M417.1,417.5H421.7 M427.45,417.5H432.05 M437.8,417.5H442.4 M448.15,417.5H452.75 M458.5,417.5H463.1 M468.85,417.5H473.45 M479.2,417.5H483.8 M489.55,417.5H494.15 M499.9,417.5H504.5 M510.25,417.5H514.85 M520.6,417.5H525.2 M530.95,417.5H535.55 M541.3,417.5H545.9 M551.65,417.5H556.25 M562,417.5H566.6 M572.35,417.5H576.95 M582.7,417.5H586.7 M65.2,442H69.8 M75.55,442H80.15 M85.9,442H90.5 M96.25,442H100.85 M106.6,442H111.2 M116.95,442H121.55 M127.3,442H131.9 M137.65,442H142.25 M148,442H152.6 M158.35,442H162.95 M168.7,442H173.3 M179.05,442H183.65 M189.4,442H194 M199.75,442H204.35 M210.1,442H214.7 M220.45,442H225.05 M230.8,442H235.4 M241.15,442H245.75 M251.5,442H256.1 M261.85,442H266.45 M272.2,442H276.8 M282.55,442H287.15 M292.9,442H297.5 M303.25,442H307.85 M313.6,442H318.2 M323.95,442H328.55 M334.3,442H338.9 M344.65,442H349.25 M355,442H359.6 M365.35,442H369.95 M375.7,442H380.3 M386.05,442H390.65 M396.4,442H401 M406.75,442H411.35 M417.1,442H421.7 M427.45,442H432.05 M437.8,442H442.4 M448.15,442H452.75 M458.5,442H463.1 M468.85,442H473.45 M479.2,442H483.8 M489.55,442H494.15 M499.9,442H504.5 M510.25,442H514.85 M520.6,442H525.2 M530.95,442H535.55 M541.3,442H545.9 M551.65,442H556.25 M562,442H566.6 M572.35,442H576.95 M582.7,442H586.7 M55.1,417.5H61.8 M55.1,442H59.1 M588.5,417.5H593 M591.2,442H593 M299.4,412.6V416.65 M299.4,422.2V427 M299.4,432.55V437.35 M299.4,442.9V446.8" fill="none" stroke="#111" stroke-width="2.05"/><path d="M88,408 L88,320.2 A3,3 0 0 1 94,320.2 L94,408" fill="#F4F4F2" stroke="#BEBEC8" stroke-width="2"/><line x1="91" y1="320.2" x2="91" y2="408" stroke="#BEBEC8" stroke-width="0.8"/><path d="M54.2,359.4L86.9,359.4M54.2,376.1L86.9,376.1" stroke="#111" stroke-width="2" fill="none"/><path d="M86.9,359 L87.82,359.17 L88.75,359.62 L89.67,360.18 L90.6,360.63 L91.52,360.8 L92.45,360.63 L93.37,360.18 L94.3,359.62 L95.22,359.17 L96.15,359 L97.07,359.17 L98,359.62 L98.92,360.18 L99.84,360.63 L100.77,360.8 L101.69,360.63 L102.62,360.18 L103.54,359.62 L104.47,359.17 L105.39,359 L106.32,359.17 L107.24,359.62 L108.17,360.18 L109.09,360.63 L110.01,360.8 L110.94,360.63 L111.86,360.18 L112.79,359.62 L113.71,359.17 L114.64,359 L115.56,359.17 L116.49,359.62 L117.41,360.18 L118.34,360.63 L119.26,360.8 L120.19,360.63 L121.11,360.18 L122.03,359.62 L122.96,359.17 L123.88,359 L124.81,359.17 L125.73,359.62 L126.66,360.18 L127.58,360.63 L128.51,360.8 L129.43,360.63 L130.36,360.18 L131.28,359.62 L132.2,359.17 L133.13,359 L134.05,359.17 L134.98,359.62 L135.9,360.18 L136.83,360.63 L137.75,360.8 L138.68,360.63 L139.6,360.18 L140.53,359.62 L141.45,359.17 L142.38,359 L143.3,359.17 L144.22,359.62 L145.15,360.18 L146.07,360.63 L147,360.8 L147.92,360.63 L148.85,360.18 L149.77,359.62 L150.7,359.17 L151.62,359 L152.55,359.17 L153.47,359.62 L154.39,360.18 L155.32,360.63 L156.24,360.8 L157.17,360.63 L158.09,360.18 L159.02,359.62 L159.94,359.17 L160.87,359 L161.79,359.17 L162.72,359.62 L163.64,360.18 L164.56,360.63 L165.49,360.8 L166.41,360.63 L167.34,360.18 L168.26,359.62 L169.19,359.17 L170.11,359 L171.04,359.17 L171.96,359.62 L172.89,360.18 L173.81,360.63 L174.74,360.8 L175.66,360.63 L176.58,360.18 L177.51,359.62 L178.43,359.17 L179.36,359 L180.28,359.17 L181.21,359.62 L182.13,360.18 L183.06,360.63 L183.98,360.8 L184.91,360.63 L185.83,360.18 L186.75,359.62 L187.68,359.17 L188.6,359 L189.53,359.17 L190.45,359.62 L191.38,360.18 L192.3,360.63 L193.23,360.8 L194.15,360.63 L195.08,360.18 L196,359.62 L196.93,359.17 L197.85,359 L198.77,359.17 L199.7,359.62 L200.62,360.18 L201.55,360.63 L202.47,360.8 L203.4,360.63 L204.32,360.18 L205.25,359.62 L206.17,359.17 L207.1,359 L208.02,359.17 L208.94,359.62 L209.87,360.18 L210.79,360.63 L211.72,360.8 L212.64,360.63 L213.57,360.18 L214.49,359.62 L215.42,359.17 L216.34,359 L217.27,359.17 L218.19,359.62 L219.12,360.18 L220.04,360.63 L220.96,360.8 L221.89,360.63 L222.81,360.18 L223.74,359.62 L224.66,359.17 L225.59,359 L226.51,359.17 L227.44,359.62 L228.36,360.18 L229.29,360.63 L230.21,360.8 L231.14,360.63 L232.06,360.18 L232.98,359.62 L233.91,359.17 L234.83,359 L235.76,359.17 L236.68,359.62 L237.61,360.18 L238.53,360.63 L239.46,360.8 L240.38,360.63 L241.31,360.18 L242.23,359.62 L243.15,359.17 L244.08,359 L245,359.17 L245.93,359.62 L246.85,360.18 L247.78,360.63 L248.7,360.8 L249.63,360.63 L250.55,360.18 L251.48,359.62 L252.4,359.17 L253.33,359 L254.25,359.17 L255.17,359.62 L256.1,360.18 L257.02,360.63 L257.95,360.8 L258.87,360.63 L259.8,360.18 L260.72,359.62 L261.65,359.17 L262.57,359 L263.5,359.17 L264.42,359.62 L265.34,360.18 L266.27,360.63 L267.19,360.8 L268.12,360.63 L269.04,360.18 L269.97,359.62 L270.89,359.17 L271.82,359 L272.74,359.17 L273.67,359.62 L274.59,360.18 L275.51,360.63 L276.44,360.8 L277.36,360.63 L278.29,360.18 L279.21,359.62 L280.14,359.17 L281.06,359 L281.99,359.17 L282.91,359.62 L283.84,360.18 L284.76,360.63 L285.69,360.8 L286.61,360.63 L287.53,360.18 L288.46,359.62 L289.38,359.17 L290.31,359 L291.23,359.17 L292.16,359.62 L293.08,360.18 L294.01,360.63 L294.93,360.8 L295.86,360.63 L296.78,360.18 L297.71,359.62 L298.63,359.17 L299.55,359 L300.48,359.17 L301.4,359.62 L302.33,360.18 L303.25,360.63 L304.18,360.8 L305.1,360.63 L306.03,360.18 L306.95,359.62 L307.88,359.17 L308.8,359 L308.8,376 L307.88,376.8 L306.95,377.53 L306.03,378.1 L305.1,378.47 L304.18,378.6 L303.25,378.47 L302.33,378.1 L301.4,377.53 L300.48,376.8 L299.55,376 L298.63,376.8 L297.71,377.53 L296.78,378.1 L295.86,378.47 L294.93,378.6 L294.01,378.47 L293.08,378.1 L292.16,377.53 L291.23,376.8 L290.31,376 L289.38,376.8 L288.46,377.53 L287.53,378.1 L286.61,378.47 L285.69,378.6 L284.76,378.47 L283.84,378.1 L282.91,377.53 L281.99,376.8 L281.06,376 L280.14,376.8 L279.21,377.53 L278.29,378.1 L277.36,378.47 L276.44,378.6 L275.51,378.47 L274.59,378.1 L273.67,377.53 L272.74,376.8 L271.82,376 L270.89,376.8 L269.97,377.53 L269.04,378.1 L268.12,378.47 L267.19,378.6 L266.27,378.47 L265.34,378.1 L264.42,377.53 L263.5,376.8 L262.57,376 L261.65,376.8 L260.72,377.53 L259.8,378.1 L258.87,378.47 L257.95,378.6 L257.02,378.47 L256.1,378.1 L255.17,377.53 L254.25,376.8 L253.33,376 L252.4,376.8 L251.48,377.53 L250.55,378.1 L249.63,378.47 L248.7,378.6 L247.78,378.47 L246.85,378.1 L245.93,377.53 L245,376.8 L244.08,376 L243.15,376.8 L242.23,377.53 L241.31,378.1 L240.38,378.47 L239.46,378.6 L238.53,378.47 L237.61,378.1 L236.68,377.53 L235.76,376.8 L234.83,376 L233.91,376.8 L232.98,377.53 L232.06,378.1 L231.14,378.47 L230.21,378.6 L229.29,378.47 L228.36,378.1 L227.44,377.53 L226.51,376.8 L225.59,376 L224.66,376.8 L223.74,377.53 L222.81,378.1 L221.89,378.47 L220.96,378.6 L220.04,378.47 L219.12,378.1 L218.19,377.53 L217.27,376.8 L216.34,376 L215.42,376.8 L214.49,377.53 L213.57,378.1 L212.64,378.47 L211.72,378.6 L210.79,378.47 L209.87,378.1 L208.94,377.53 L208.02,376.8 L207.1,376 L206.17,376.8 L205.25,377.53 L204.32,378.1 L203.4,378.47 L202.47,378.6 L201.55,378.47 L200.62,378.1 L199.7,377.53 L198.77,376.8 L197.85,376 L196.93,376.8 L196,377.53 L195.08,378.1 L194.15,378.47 L193.23,378.6 L192.3,378.47 L191.38,378.1 L190.45,377.53 L189.53,376.8 L188.6,376 L187.68,376.8 L186.75,377.53 L185.83,378.1 L184.91,378.47 L183.98,378.6 L183.06,378.47 L182.13,378.1 L181.21,377.53 L180.28,376.8 L179.36,376 L178.43,376.8 L177.51,377.53 L176.58,378.1 L175.66,378.47 L174.74,378.6 L173.81,378.47 L172.89,378.1 L171.96,377.53 L171.04,376.8 L170.11,376 L169.19,376.8 L168.26,377.53 L167.34,378.1 L166.41,378.47 L165.49,378.6 L164.56,378.47 L163.64,378.1 L162.72,377.53 L161.79,376.8 L160.87,376 L159.94,376.8 L159.02,377.53 L158.09,378.1 L157.17,378.47 L156.24,378.6 L155.32,378.47 L154.39,378.1 L153.47,377.53 L152.55,376.8 L151.62,376 L150.7,376.8 L149.77,377.53 L148.85,378.1 L147.92,378.47 L147,378.6 L146.07,378.47 L145.15,378.1 L144.22,377.53 L143.3,376.8 L142.38,376 L141.45,376.8 L140.53,377.53 L139.6,378.1 L138.68,378.47 L137.75,378.6 L136.83,378.47 L135.9,378.1 L134.98,377.53 L134.05,376.8 L133.13,376 L132.2,376.8 L131.28,377.53 L130.36,378.1 L129.43,378.47 L128.51,378.6 L127.58,378.47 L126.66,378.1 L125.73,377.53 L124.81,376.8 L123.88,376 L122.96,376.8 L122.03,377.53 L121.11,378.1 L120.19,378.47 L119.26,378.6 L118.34,378.47 L117.41,378.1 L116.49,377.53 L115.56,376.8 L114.64,376 L113.71,376.8 L112.79,377.53 L111.86,378.1 L110.94,378.47 L110.01,378.6 L109.09,378.47 L108.17,378.1 L107.24,377.53 L106.32,376.8 L105.39,376 L104.47,376.8 L103.54,377.53 L102.62,378.1 L101.69,378.47 L100.77,378.6 L99.84,378.47 L98.92,378.1 L98,377.53 L97.07,376.8 L96.15,376 L95.22,376.8 L94.3,377.53 L93.37,378.1 L92.45,378.47 L91.52,378.6 L90.6,378.47 L89.67,378.1 L88.75,377.53 L87.82,376.8 L86.9,376 Z" fill="#FDFFE8"/><path d="M86.9,359 L87.82,359.17 L88.75,359.62 L89.67,360.18 L90.6,360.63 L91.52,360.8 L92.45,360.63 L93.37,360.18 L94.3,359.62 L95.22,359.17 L96.15,359 L97.07,359.17 L98,359.62 L98.92,360.18 L99.84,360.63 L100.77,360.8 L101.69,360.63 L102.62,360.18 L103.54,359.62 L104.47,359.17 L105.39,359 L106.32,359.17 L107.24,359.62 L108.17,360.18 L109.09,360.63 L110.01,360.8 L110.94,360.63 L111.86,360.18 L112.79,359.62 L113.71,359.17 L114.64,359 L115.56,359.17 L116.49,359.62 L117.41,360.18 L118.34,360.63 L119.26,360.8 L120.19,360.63 L121.11,360.18 L122.03,359.62 L122.96,359.17 L123.88,359 L124.81,359.17 L125.73,359.62 L126.66,360.18 L127.58,360.63 L128.51,360.8 L129.43,360.63 L130.36,360.18 L131.28,359.62 L132.2,359.17 L133.13,359 L134.05,359.17 L134.98,359.62 L135.9,360.18 L136.83,360.63 L137.75,360.8 L138.68,360.63 L139.6,360.18 L140.53,359.62 L141.45,359.17 L142.38,359 L143.3,359.17 L144.22,359.62 L145.15,360.18 L146.07,360.63 L147,360.8 L147.92,360.63 L148.85,360.18 L149.77,359.62 L150.7,359.17 L151.62,359 L152.55,359.17 L153.47,359.62 L154.39,360.18 L155.32,360.63 L156.24,360.8 L157.17,360.63 L158.09,360.18 L159.02,359.62 L159.94,359.17 L160.87,359 L161.79,359.17 L162.72,359.62 L163.64,360.18 L164.56,360.63 L165.49,360.8 L166.41,360.63 L167.34,360.18 L168.26,359.62 L169.19,359.17 L170.11,359 L171.04,359.17 L171.96,359.62 L172.89,360.18 L173.81,360.63 L174.74,360.8 L175.66,360.63 L176.58,360.18 L177.51,359.62 L178.43,359.17 L179.36,359 L180.28,359.17 L181.21,359.62 L182.13,360.18 L183.06,360.63 L183.98,360.8 L184.91,360.63 L185.83,360.18 L186.75,359.62 L187.68,359.17 L188.6,359 L189.53,359.17 L190.45,359.62 L191.38,360.18 L192.3,360.63 L193.23,360.8 L194.15,360.63 L195.08,360.18 L196,359.62 L196.93,359.17 L197.85,359 L198.77,359.17 L199.7,359.62 L200.62,360.18 L201.55,360.63 L202.47,360.8 L203.4,360.63 L204.32,360.18 L205.25,359.62 L206.17,359.17 L207.1,359 L208.02,359.17 L208.94,359.62 L209.87,360.18 L210.79,360.63 L211.72,360.8 L212.64,360.63 L213.57,360.18 L214.49,359.62 L215.42,359.17 L216.34,359 L217.27,359.17 L218.19,359.62 L219.12,360.18 L220.04,360.63 L220.96,360.8 L221.89,360.63 L222.81,360.18 L223.74,359.62 L224.66,359.17 L225.59,359 L226.51,359.17 L227.44,359.62 L228.36,360.18 L229.29,360.63 L230.21,360.8 L231.14,360.63 L232.06,360.18 L232.98,359.62 L233.91,359.17 L234.83,359 L235.76,359.17 L236.68,359.62 L237.61,360.18 L238.53,360.63 L239.46,360.8 L240.38,360.63 L241.31,360.18 L242.23,359.62 L243.15,359.17 L244.08,359 L245,359.17 L245.93,359.62 L246.85,360.18 L247.78,360.63 L248.7,360.8 L249.63,360.63 L250.55,360.18 L251.48,359.62 L252.4,359.17 L253.33,359 L254.25,359.17 L255.17,359.62 L256.1,360.18 L257.02,360.63 L257.95,360.8 L258.87,360.63 L259.8,360.18 L260.72,359.62 L261.65,359.17 L262.57,359 L263.5,359.17 L264.42,359.62 L265.34,360.18 L266.27,360.63 L267.19,360.8 L268.12,360.63 L269.04,360.18 L269.97,359.62 L270.89,359.17 L271.82,359 L272.74,359.17 L273.67,359.62 L274.59,360.18 L275.51,360.63 L276.44,360.8 L277.36,360.63 L278.29,360.18 L279.21,359.62 L280.14,359.17 L281.06,359 L281.99,359.17 L282.91,359.62 L283.84,360.18 L284.76,360.63 L285.69,360.8 L286.61,360.63 L287.53,360.18 L288.46,359.62 L289.38,359.17 L290.31,359 L291.23,359.17 L292.16,359.62 L293.08,360.18 L294.01,360.63 L294.93,360.8 L295.86,360.63 L296.78,360.18 L297.71,359.62 L298.63,359.17 L299.55,359 L300.48,359.17 L301.4,359.62 L302.33,360.18 L303.25,360.63 L304.18,360.8 L305.1,360.63 L306.03,360.18 L306.95,359.62 L307.88,359.17 L308.8,359 M86.9,376 L87.82,376.8 L88.75,377.53 L89.67,378.1 L90.6,378.47 L91.52,378.6 L92.45,378.47 L93.37,378.1 L94.3,377.53 L95.22,376.8 L96.15,376 L97.07,376.8 L98,377.53 L98.92,378.1 L99.84,378.47 L100.77,378.6 L101.69,378.47 L102.62,378.1 L103.54,377.53 L104.47,376.8 L105.39,376 L106.32,376.8 L107.24,377.53 L108.17,378.1 L109.09,378.47 L110.01,378.6 L110.94,378.47 L111.86,378.1 L112.79,377.53 L113.71,376.8 L114.64,376 L115.56,376.8 L116.49,377.53 L117.41,378.1 L118.34,378.47 L119.26,378.6 L120.19,378.47 L121.11,378.1 L122.03,377.53 L122.96,376.8 L123.88,376 L124.81,376.8 L125.73,377.53 L126.66,378.1 L127.58,378.47 L128.51,378.6 L129.43,378.47 L130.36,378.1 L131.28,377.53 L132.2,376.8 L133.13,376 L134.05,376.8 L134.98,377.53 L135.9,378.1 L136.83,378.47 L137.75,378.6 L138.68,378.47 L139.6,378.1 L140.53,377.53 L141.45,376.8 L142.38,376 L143.3,376.8 L144.22,377.53 L145.15,378.1 L146.07,378.47 L147,378.6 L147.92,378.47 L148.85,378.1 L149.77,377.53 L150.7,376.8 L151.62,376 L152.55,376.8 L153.47,377.53 L154.39,378.1 L155.32,378.47 L156.24,378.6 L157.17,378.47 L158.09,378.1 L159.02,377.53 L159.94,376.8 L160.87,376 L161.79,376.8 L162.72,377.53 L163.64,378.1 L164.56,378.47 L165.49,378.6 L166.41,378.47 L167.34,378.1 L168.26,377.53 L169.19,376.8 L170.11,376 L171.04,376.8 L171.96,377.53 L172.89,378.1 L173.81,378.47 L174.74,378.6 L175.66,378.47 L176.58,378.1 L177.51,377.53 L178.43,376.8 L179.36,376 L180.28,376.8 L181.21,377.53 L182.13,378.1 L183.06,378.47 L183.98,378.6 L184.91,378.47 L185.83,378.1 L186.75,377.53 L187.68,376.8 L188.6,376 L189.53,376.8 L190.45,377.53 L191.38,378.1 L192.3,378.47 L193.23,378.6 L194.15,378.47 L195.08,378.1 L196,377.53 L196.93,376.8 L197.85,376 L198.77,376.8 L199.7,377.53 L200.62,378.1 L201.55,378.47 L202.47,378.6 L203.4,378.47 L204.32,378.1 L205.25,377.53 L206.17,376.8 L207.1,376 L208.02,376.8 L208.94,377.53 L209.87,378.1 L210.79,378.47 L211.72,378.6 L212.64,378.47 L213.57,378.1 L214.49,377.53 L215.42,376.8 L216.34,376 L217.27,376.8 L218.19,377.53 L219.12,378.1 L220.04,378.47 L220.96,378.6 L221.89,378.47 L222.81,378.1 L223.74,377.53 L224.66,376.8 L225.59,376 L226.51,376.8 L227.44,377.53 L228.36,378.1 L229.29,378.47 L230.21,378.6 L231.14,378.47 L232.06,378.1 L232.98,377.53 L233.91,376.8 L234.83,376 L235.76,376.8 L236.68,377.53 L237.61,378.1 L238.53,378.47 L239.46,378.6 L240.38,378.47 L241.31,378.1 L242.23,377.53 L243.15,376.8 L244.08,376 L245,376.8 L245.93,377.53 L246.85,378.1 L247.78,378.47 L248.7,378.6 L249.63,378.47 L250.55,378.1 L251.48,377.53 L252.4,376.8 L253.33,376 L254.25,376.8 L255.17,377.53 L256.1,378.1 L257.02,378.47 L257.95,378.6 L258.87,378.47 L259.8,378.1 L260.72,377.53 L261.65,376.8 L262.57,376 L263.5,376.8 L264.42,377.53 L265.34,378.1 L266.27,378.47 L267.19,378.6 L268.12,378.47 L269.04,378.1 L269.97,377.53 L270.89,376.8 L271.82,376 L272.74,376.8 L273.67,377.53 L274.59,378.1 L275.51,378.47 L276.44,378.6 L277.36,378.47 L278.29,378.1 L279.21,377.53 L280.14,376.8 L281.06,376 L281.99,376.8 L282.91,377.53 L283.84,378.1 L284.76,378.47 L285.69,378.6 L286.61,378.47 L287.53,378.1 L288.46,377.53 L289.38,376.8 L290.31,376 L291.23,376.8 L292.16,377.53 L293.08,378.1 L294.01,378.47 L294.93,378.6 L295.86,378.47 L296.78,378.1 L297.71,377.53 L298.63,376.8 L299.55,376 L300.48,376.8 L301.4,377.53 L302.33,378.1 L303.25,378.47 L304.18,378.6 L305.1,378.47 L306.03,378.1 L306.95,377.53 L307.88,376.8 L308.8,376" fill="none" stroke="#111" stroke-width="2.3" stroke-linejoin="round"/><path d="M86.9,359L86.9,376M96.15,359L96.15,376M105.39,359L105.39,376M114.64,359L114.64,376M123.88,359L123.88,376M133.13,359L133.13,376M142.38,359L142.38,376M151.62,359L151.62,376M160.87,359L160.87,376M170.11,359L170.11,376M179.36,359L179.36,376M188.6,359L188.6,376M197.85,359L197.85,376M207.1,359L207.1,376M216.34,359L216.34,376M225.59,359L225.59,376M234.83,359L234.83,376M244.08,359L244.08,376M253.33,359L253.33,376M262.57,359L262.57,376M271.82,359L271.82,376M281.06,359L281.06,376M290.31,359L290.31,376M299.55,359L299.55,376M308.8,359L308.8,376" fill="none" stroke="#111" stroke-width="2.7"/><path d="M342.1,359 L343.02,359.17 L343.95,359.62 L344.87,360.18 L345.79,360.63 L346.71,360.8 L347.64,360.63 L348.56,360.18 L349.48,359.62 L350.41,359.17 L351.33,359 L352.25,359.17 L353.18,359.62 L354.1,360.18 L355.02,360.63 L355.94,360.8 L356.87,360.63 L357.79,360.18 L358.71,359.62 L359.64,359.17 L360.56,359 L361.48,359.17 L362.4,359.62 L363.33,360.18 L364.25,360.63 L365.17,360.8 L366.1,360.63 L367.02,360.18 L367.94,359.62 L368.86,359.17 L369.79,359 L370.71,359.17 L371.63,359.62 L372.56,360.18 L373.48,360.63 L374.4,360.8 L375.33,360.63 L376.25,360.18 L377.17,359.62 L378.09,359.17 L379.02,359 L379.94,359.17 L380.86,359.62 L381.79,360.18 L382.71,360.63 L383.63,360.8 L384.55,360.63 L385.48,360.18 L386.4,359.62 L387.32,359.17 L388.25,359 L389.17,359.17 L390.09,359.62 L391.01,360.18 L391.94,360.63 L392.86,360.8 L393.78,360.63 L394.71,360.18 L395.63,359.62 L396.55,359.17 L397.48,359 L398.4,359.17 L399.32,359.62 L400.24,360.18 L401.17,360.63 L402.09,360.8 L403.01,360.63 L403.94,360.18 L404.86,359.62 L405.78,359.17 L406.7,359 L407.63,359.17 L408.55,359.62 L409.47,360.18 L410.4,360.63 L411.32,360.8 L412.24,360.63 L413.16,360.18 L414.09,359.62 L415.01,359.17 L415.93,359 L416.86,359.17 L417.78,359.62 L418.7,360.18 L419.62,360.63 L420.55,360.8 L421.47,360.63 L422.39,360.18 L423.32,359.62 L424.24,359.17 L425.16,359 L426.09,359.17 L427.01,359.62 L427.93,360.18 L428.85,360.63 L429.78,360.8 L430.7,360.63 L431.62,360.18 L432.55,359.62 L433.47,359.17 L434.39,359 L435.31,359.17 L436.24,359.62 L437.16,360.18 L438.08,360.63 L439.01,360.8 L439.93,360.63 L440.85,360.18 L441.78,359.62 L442.7,359.17 L443.62,359 L444.54,359.17 L445.47,359.62 L446.39,360.18 L447.31,360.63 L448.24,360.8 L449.16,360.63 L450.08,360.18 L451,359.62 L451.93,359.17 L452.85,359 L453.77,359.17 L454.7,359.62 L455.62,360.18 L456.54,360.63 L457.46,360.8 L458.39,360.63 L459.31,360.18 L460.23,359.62 L461.16,359.17 L462.08,359 L463,359.17 L463.93,359.62 L464.85,360.18 L465.77,360.63 L466.69,360.8 L467.62,360.63 L468.54,360.18 L469.46,359.62 L470.39,359.17 L471.31,359 L472.23,359.17 L473.15,359.62 L474.08,360.18 L475,360.63 L475.92,360.8 L476.85,360.63 L477.77,360.18 L478.69,359.62 L479.61,359.17 L480.54,359 L481.46,359.17 L482.38,359.62 L483.31,360.18 L484.23,360.63 L485.15,360.8 L486.08,360.63 L487,360.18 L487.92,359.62 L488.84,359.17 L489.77,359 L490.69,359.17 L491.61,359.62 L492.54,360.18 L493.46,360.63 L494.38,360.8 L495.3,360.63 L496.23,360.18 L497.15,359.62 L498.07,359.17 L499,359 L499.92,359.17 L500.84,359.62 L501.76,360.18 L502.69,360.63 L503.61,360.8 L504.53,360.63 L505.46,360.18 L506.38,359.62 L507.3,359.17 L508.23,359 L509.15,359.17 L510.07,359.62 L510.99,360.18 L511.92,360.63 L512.84,360.8 L513.76,360.63 L514.69,360.18 L515.61,359.62 L516.53,359.17 L517.45,359 L518.38,359.17 L519.3,359.62 L520.22,360.18 L521.15,360.63 L522.07,360.8 L522.99,360.63 L523.91,360.18 L524.84,359.62 L525.76,359.17 L526.68,359 L527.61,359.17 L528.53,359.62 L529.45,360.18 L530.38,360.63 L531.3,360.8 L532.22,360.63 L533.14,360.18 L534.07,359.62 L534.99,359.17 L535.91,359 L536.84,359.17 L537.76,359.62 L538.68,360.18 L539.6,360.63 L540.53,360.8 L541.45,360.63 L542.37,360.18 L543.3,359.62 L544.22,359.17 L545.14,359 L546.06,359.17 L546.99,359.62 L547.91,360.18 L548.83,360.63 L549.76,360.8 L550.68,360.63 L551.6,360.18 L552.52,359.62 L553.45,359.17 L554.37,359 L555.29,359.17 L556.22,359.62 L557.14,360.18 L558.06,360.63 L558.99,360.8 L559.91,360.63 L560.83,360.18 L561.75,359.62 L562.68,359.17 L563.6,359 L563.6,376 L562.68,376.8 L561.75,377.53 L560.83,378.1 L559.91,378.47 L558.99,378.6 L558.06,378.47 L557.14,378.1 L556.22,377.53 L555.29,376.8 L554.37,376 L553.45,376.8 L552.52,377.53 L551.6,378.1 L550.68,378.47 L549.76,378.6 L548.83,378.47 L547.91,378.1 L546.99,377.53 L546.06,376.8 L545.14,376 L544.22,376.8 L543.3,377.53 L542.37,378.1 L541.45,378.47 L540.53,378.6 L539.6,378.47 L538.68,378.1 L537.76,377.53 L536.84,376.8 L535.91,376 L534.99,376.8 L534.07,377.53 L533.14,378.1 L532.22,378.47 L531.3,378.6 L530.38,378.47 L529.45,378.1 L528.53,377.53 L527.61,376.8 L526.68,376 L525.76,376.8 L524.84,377.53 L523.91,378.1 L522.99,378.47 L522.07,378.6 L521.15,378.47 L520.22,378.1 L519.3,377.53 L518.38,376.8 L517.45,376 L516.53,376.8 L515.61,377.53 L514.69,378.1 L513.76,378.47 L512.84,378.6 L511.92,378.47 L510.99,378.1 L510.07,377.53 L509.15,376.8 L508.23,376 L507.3,376.8 L506.38,377.53 L505.46,378.1 L504.53,378.47 L503.61,378.6 L502.69,378.47 L501.76,378.1 L500.84,377.53 L499.92,376.8 L499,376 L498.07,376.8 L497.15,377.53 L496.23,378.1 L495.3,378.47 L494.38,378.6 L493.46,378.47 L492.54,378.1 L491.61,377.53 L490.69,376.8 L489.77,376 L488.84,376.8 L487.92,377.53 L487,378.1 L486.08,378.47 L485.15,378.6 L484.23,378.47 L483.31,378.1 L482.38,377.53 L481.46,376.8 L480.54,376 L479.61,376.8 L478.69,377.53 L477.77,378.1 L476.85,378.47 L475.92,378.6 L475,378.47 L474.08,378.1 L473.15,377.53 L472.23,376.8 L471.31,376 L470.39,376.8 L469.46,377.53 L468.54,378.1 L467.62,378.47 L466.69,378.6 L465.77,378.47 L464.85,378.1 L463.93,377.53 L463,376.8 L462.08,376 L461.16,376.8 L460.23,377.53 L459.31,378.1 L458.39,378.47 L457.46,378.6 L456.54,378.47 L455.62,378.1 L454.7,377.53 L453.77,376.8 L452.85,376 L451.93,376.8 L451,377.53 L450.08,378.1 L449.16,378.47 L448.24,378.6 L447.31,378.47 L446.39,378.1 L445.47,377.53 L444.54,376.8 L443.62,376 L442.7,376.8 L441.78,377.53 L440.85,378.1 L439.93,378.47 L439.01,378.6 L438.08,378.47 L437.16,378.1 L436.24,377.53 L435.31,376.8 L434.39,376 L433.47,376.8 L432.55,377.53 L431.62,378.1 L430.7,378.47 L429.78,378.6 L428.85,378.47 L427.93,378.1 L427.01,377.53 L426.09,376.8 L425.16,376 L424.24,376.8 L423.32,377.53 L422.39,378.1 L421.47,378.47 L420.55,378.6 L419.62,378.47 L418.7,378.1 L417.78,377.53 L416.86,376.8 L415.93,376 L415.01,376.8 L414.09,377.53 L413.16,378.1 L412.24,378.47 L411.32,378.6 L410.4,378.47 L409.47,378.1 L408.55,377.53 L407.63,376.8 L406.7,376 L405.78,376.8 L404.86,377.53 L403.94,378.1 L403.01,378.47 L402.09,378.6 L401.17,378.47 L400.24,378.1 L399.32,377.53 L398.4,376.8 L397.48,376 L396.55,376.8 L395.63,377.53 L394.71,378.1 L393.78,378.47 L392.86,378.6 L391.94,378.47 L391.01,378.1 L390.09,377.53 L389.17,376.8 L388.25,376 L387.32,376.8 L386.4,377.53 L385.48,378.1 L384.55,378.47 L383.63,378.6 L382.71,378.47 L381.79,378.1 L380.86,377.53 L379.94,376.8 L379.02,376 L378.09,376.8 L377.17,377.53 L376.25,378.1 L375.33,378.47 L374.4,378.6 L373.48,378.47 L372.56,378.1 L371.63,377.53 L370.71,376.8 L369.79,376 L368.86,376.8 L367.94,377.53 L367.02,378.1 L366.1,378.47 L365.17,378.6 L364.25,378.47 L363.33,378.1 L362.4,377.53 L361.48,376.8 L360.56,376 L359.64,376.8 L358.71,377.53 L357.79,378.1 L356.87,378.47 L355.94,378.6 L355.02,378.47 L354.1,378.1 L353.18,377.53 L352.25,376.8 L351.33,376 L350.41,376.8 L349.48,377.53 L348.56,378.1 L347.64,378.47 L346.71,378.6 L345.79,378.47 L344.87,378.1 L343.95,377.53 L343.02,376.8 L342.1,376 Z" fill="#FDFFE8"/><path d="M342.1,359 L343.02,359.17 L343.95,359.62 L344.87,360.18 L345.79,360.63 L346.71,360.8 L347.64,360.63 L348.56,360.18 L349.48,359.62 L350.41,359.17 L351.33,359 L352.25,359.17 L353.18,359.62 L354.1,360.18 L355.02,360.63 L355.94,360.8 L356.87,360.63 L357.79,360.18 L358.71,359.62 L359.64,359.17 L360.56,359 L361.48,359.17 L362.4,359.62 L363.33,360.18 L364.25,360.63 L365.17,360.8 L366.1,360.63 L367.02,360.18 L367.94,359.62 L368.86,359.17 L369.79,359 L370.71,359.17 L371.63,359.62 L372.56,360.18 L373.48,360.63 L374.4,360.8 L375.33,360.63 L376.25,360.18 L377.17,359.62 L378.09,359.17 L379.02,359 L379.94,359.17 L380.86,359.62 L381.79,360.18 L382.71,360.63 L383.63,360.8 L384.55,360.63 L385.48,360.18 L386.4,359.62 L387.32,359.17 L388.25,359 L389.17,359.17 L390.09,359.62 L391.01,360.18 L391.94,360.63 L392.86,360.8 L393.78,360.63 L394.71,360.18 L395.63,359.62 L396.55,359.17 L397.48,359 L398.4,359.17 L399.32,359.62 L400.24,360.18 L401.17,360.63 L402.09,360.8 L403.01,360.63 L403.94,360.18 L404.86,359.62 L405.78,359.17 L406.7,359 L407.63,359.17 L408.55,359.62 L409.47,360.18 L410.4,360.63 L411.32,360.8 L412.24,360.63 L413.16,360.18 L414.09,359.62 L415.01,359.17 L415.93,359 L416.86,359.17 L417.78,359.62 L418.7,360.18 L419.62,360.63 L420.55,360.8 L421.47,360.63 L422.39,360.18 L423.32,359.62 L424.24,359.17 L425.16,359 L426.09,359.17 L427.01,359.62 L427.93,360.18 L428.85,360.63 L429.78,360.8 L430.7,360.63 L431.62,360.18 L432.55,359.62 L433.47,359.17 L434.39,359 L435.31,359.17 L436.24,359.62 L437.16,360.18 L438.08,360.63 L439.01,360.8 L439.93,360.63 L440.85,360.18 L441.78,359.62 L442.7,359.17 L443.62,359 L444.54,359.17 L445.47,359.62 L446.39,360.18 L447.31,360.63 L448.24,360.8 L449.16,360.63 L450.08,360.18 L451,359.62 L451.93,359.17 L452.85,359 L453.77,359.17 L454.7,359.62 L455.62,360.18 L456.54,360.63 L457.46,360.8 L458.39,360.63 L459.31,360.18 L460.23,359.62 L461.16,359.17 L462.08,359 L463,359.17 L463.93,359.62 L464.85,360.18 L465.77,360.63 L466.69,360.8 L467.62,360.63 L468.54,360.18 L469.46,359.62 L470.39,359.17 L471.31,359 L472.23,359.17 L473.15,359.62 L474.08,360.18 L475,360.63 L475.92,360.8 L476.85,360.63 L477.77,360.18 L478.69,359.62 L479.61,359.17 L480.54,359 L481.46,359.17 L482.38,359.62 L483.31,360.18 L484.23,360.63 L485.15,360.8 L486.08,360.63 L487,360.18 L487.92,359.62 L488.84,359.17 L489.77,359 L490.69,359.17 L491.61,359.62 L492.54,360.18 L493.46,360.63 L494.38,360.8 L495.3,360.63 L496.23,360.18 L497.15,359.62 L498.07,359.17 L499,359 L499.92,359.17 L500.84,359.62 L501.76,360.18 L502.69,360.63 L503.61,360.8 L504.53,360.63 L505.46,360.18 L506.38,359.62 L507.3,359.17 L508.23,359 L509.15,359.17 L510.07,359.62 L510.99,360.18 L511.92,360.63 L512.84,360.8 L513.76,360.63 L514.69,360.18 L515.61,359.62 L516.53,359.17 L517.45,359 L518.38,359.17 L519.3,359.62 L520.22,360.18 L521.15,360.63 L522.07,360.8 L522.99,360.63 L523.91,360.18 L524.84,359.62 L525.76,359.17 L526.68,359 L527.61,359.17 L528.53,359.62 L529.45,360.18 L530.38,360.63 L531.3,360.8 L532.22,360.63 L533.14,360.18 L534.07,359.62 L534.99,359.17 L535.91,359 L536.84,359.17 L537.76,359.62 L538.68,360.18 L539.6,360.63 L540.53,360.8 L541.45,360.63 L542.37,360.18 L543.3,359.62 L544.22,359.17 L545.14,359 L546.06,359.17 L546.99,359.62 L547.91,360.18 L548.83,360.63 L549.76,360.8 L550.68,360.63 L551.6,360.18 L552.52,359.62 L553.45,359.17 L554.37,359 L555.29,359.17 L556.22,359.62 L557.14,360.18 L558.06,360.63 L558.99,360.8 L559.91,360.63 L560.83,360.18 L561.75,359.62 L562.68,359.17 L563.6,359 M342.1,376 L343.02,376.8 L343.95,377.53 L344.87,378.1 L345.79,378.47 L346.71,378.6 L347.64,378.47 L348.56,378.1 L349.48,377.53 L350.41,376.8 L351.33,376 L352.25,376.8 L353.18,377.53 L354.1,378.1 L355.02,378.47 L355.94,378.6 L356.87,378.47 L357.79,378.1 L358.71,377.53 L359.64,376.8 L360.56,376 L361.48,376.8 L362.4,377.53 L363.33,378.1 L364.25,378.47 L365.17,378.6 L366.1,378.47 L367.02,378.1 L367.94,377.53 L368.86,376.8 L369.79,376 L370.71,376.8 L371.63,377.53 L372.56,378.1 L373.48,378.47 L374.4,378.6 L375.33,378.47 L376.25,378.1 L377.17,377.53 L378.09,376.8 L379.02,376 L379.94,376.8 L380.86,377.53 L381.79,378.1 L382.71,378.47 L383.63,378.6 L384.55,378.47 L385.48,378.1 L386.4,377.53 L387.32,376.8 L388.25,376 L389.17,376.8 L390.09,377.53 L391.01,378.1 L391.94,378.47 L392.86,378.6 L393.78,378.47 L394.71,378.1 L395.63,377.53 L396.55,376.8 L397.48,376 L398.4,376.8 L399.32,377.53 L400.24,378.1 L401.17,378.47 L402.09,378.6 L403.01,378.47 L403.94,378.1 L404.86,377.53 L405.78,376.8 L406.7,376 L407.63,376.8 L408.55,377.53 L409.47,378.1 L410.4,378.47 L411.32,378.6 L412.24,378.47 L413.16,378.1 L414.09,377.53 L415.01,376.8 L415.93,376 L416.86,376.8 L417.78,377.53 L418.7,378.1 L419.62,378.47 L420.55,378.6 L421.47,378.47 L422.39,378.1 L423.32,377.53 L424.24,376.8 L425.16,376 L426.09,376.8 L427.01,377.53 L427.93,378.1 L428.85,378.47 L429.78,378.6 L430.7,378.47 L431.62,378.1 L432.55,377.53 L433.47,376.8 L434.39,376 L435.31,376.8 L436.24,377.53 L437.16,378.1 L438.08,378.47 L439.01,378.6 L439.93,378.47 L440.85,378.1 L441.78,377.53 L442.7,376.8 L443.62,376 L444.54,376.8 L445.47,377.53 L446.39,378.1 L447.31,378.47 L448.24,378.6 L449.16,378.47 L450.08,378.1 L451,377.53 L451.93,376.8 L452.85,376 L453.77,376.8 L454.7,377.53 L455.62,378.1 L456.54,378.47 L457.46,378.6 L458.39,378.47 L459.31,378.1 L460.23,377.53 L461.16,376.8 L462.08,376 L463,376.8 L463.93,377.53 L464.85,378.1 L465.77,378.47 L466.69,378.6 L467.62,378.47 L468.54,378.1 L469.46,377.53 L470.39,376.8 L471.31,376 L472.23,376.8 L473.15,377.53 L474.08,378.1 L475,378.47 L475.92,378.6 L476.85,378.47 L477.77,378.1 L478.69,377.53 L479.61,376.8 L480.54,376 L481.46,376.8 L482.38,377.53 L483.31,378.1 L484.23,378.47 L485.15,378.6 L486.08,378.47 L487,378.1 L487.92,377.53 L488.84,376.8 L489.77,376 L490.69,376.8 L491.61,377.53 L492.54,378.1 L493.46,378.47 L494.38,378.6 L495.3,378.47 L496.23,378.1 L497.15,377.53 L498.07,376.8 L499,376 L499.92,376.8 L500.84,377.53 L501.76,378.1 L502.69,378.47 L503.61,378.6 L504.53,378.47 L505.46,378.1 L506.38,377.53 L507.3,376.8 L508.23,376 L509.15,376.8 L510.07,377.53 L510.99,378.1 L511.92,378.47 L512.84,378.6 L513.76,378.47 L514.69,378.1 L515.61,377.53 L516.53,376.8 L517.45,376 L518.38,376.8 L519.3,377.53 L520.22,378.1 L521.15,378.47 L522.07,378.6 L522.99,378.47 L523.91,378.1 L524.84,377.53 L525.76,376.8 L526.68,376 L527.61,376.8 L528.53,377.53 L529.45,378.1 L530.38,378.47 L531.3,378.6 L532.22,378.47 L533.14,378.1 L534.07,377.53 L534.99,376.8 L535.91,376 L536.84,376.8 L537.76,377.53 L538.68,378.1 L539.6,378.47 L540.53,378.6 L541.45,378.47 L542.37,378.1 L543.3,377.53 L544.22,376.8 L545.14,376 L546.06,376.8 L546.99,377.53 L547.91,378.1 L548.83,378.47 L549.76,378.6 L550.68,378.47 L551.6,378.1 L552.52,377.53 L553.45,376.8 L554.37,376 L555.29,376.8 L556.22,377.53 L557.14,378.1 L558.06,378.47 L558.99,378.6 L559.91,378.47 L560.83,378.1 L561.75,377.53 L562.68,376.8 L563.6,376" fill="none" stroke="#111" stroke-width="2.3" stroke-linejoin="round"/><path d="M342.1,359L342.1,376M351.33,359L351.33,376M360.56,359L360.56,376M369.79,359L369.79,376M379.02,359L379.02,376M388.25,359L388.25,376M397.48,359L397.48,376M406.7,359L406.7,376M415.93,359L415.93,376M425.16,359L425.16,376M434.39,359L434.39,376M443.62,359L443.62,376M452.85,359L452.85,376M462.08,359L462.08,376M471.31,359L471.31,376M480.54,359L480.54,376M489.77,359L489.77,376M499,359L499,376M508.23,359L508.23,376M517.45,359L517.45,376M526.68,359L526.68,376M535.91,359L535.91,376M545.14,359L545.14,376M554.37,359L554.37,376M563.6,359L563.6,376" fill="none" stroke="#111" stroke-width="2.7"/><rect x="308.8" y="358.8" width="33.3" height="16.6" fill="#FDFFE8" stroke="#111" stroke-width="2"/><line x1="325.45" y1="360.8" x2="325.45" y2="373.4" stroke="#1A1A1A" stroke-width="1.35" stroke-dasharray="1.3 0.9"/><path d="M563.6,359.7L596.5,359.7M563.6,376L596.5,376" stroke="#111" stroke-width="1.8" fill="none"/><rect x="51.9" y="304.4" width="544.6" height="143.9" fill="none" stroke="#111" stroke-width="2.55"/><line x1="51.9" y1="411.1" x2="596.5" y2="411.1" stroke="#111" stroke-width="2.7"/><g transform="translate(597.5,366) rotate(1.84)" mask="url(#mr2)"><rect x="0" y="-4" width="99.55" height="8" fill="url(#braid)"/></g><g transform="translate(597.5,372.8) rotate(7.56)" mask="url(#mr2)"><rect x="0" y="-4" width="100.37" height="8" fill="url(#braid)"/></g><g transform="translate(67.3,271.2)"><circle r="23.3" fill="#FDFFE8" stroke="#111" stroke-width="2.4"/><path d="M-22.2,-7.6 L-12.9,-7.6 A13.2,13.2 0 0 0 9.8,-7.6 L22.2,-7.6 M-12.9,-7.6 L-12.9,12.6 M9.8,-7.6 L9.8,12.6 M-19.6,12.4 L-12.9,12.4 A11.35,6.2 0 0 0 9.8,12.4 L18.6,12.4" fill="none" stroke="#111" stroke-width="2.2"/><text x="-2.5" y="-7.2" text-anchor="middle" font-size="10.6" font-weight="bold" fill="#C00A1A" stroke="#C00A1A" stroke-width="0.1" textLength="26" lengthAdjust="spacingAndGlyphs">1cm</text></g><text x="93.5" y="290" font-size="16.3" font-weight="bold" fill="#C00A1A" stroke="#C00A1A" stroke-width="0.15" textLength="38.2" lengthAdjust="spacingAndGlyphs">48+2</text><path d="M76.9,294L76.9,370L83.1,370" fill="none" stroke="#C00A1A" stroke-width="2.2" stroke-linejoin="round"/><path d="M37.5,303.75L26.25,303.75L26.25,354.4M26.25,393.1L26.25,450L37.5,450" fill="none" stroke="#C00A1A" stroke-width="2.2" stroke-linejoin="round"/><text x="27.3" y="373.1" text-anchor="middle" font-size="16" font-weight="bold" fill="#C00A1A" stroke="#C00A1A" stroke-width="0.4" textLength="24" lengthAdjust="spacingAndGlyphs">2 0</text><text x="27.4" y="386.5" text-anchor="middle" font-size="15" font-weight="bold" fill="#C00A1A" stroke="#C00A1A" stroke-width="0.4" textLength="23.6" lengthAdjust="spacingAndGlyphs">cm</text><path d="M50.6,459L50.6,466.5L274.4,466.5M328.1,466.5L596.5,466.5L596.5,459" fill="none" stroke="#C00A1A" stroke-width="2.2" stroke-linejoin="round"/><text x="300.9" y="470.7" text-anchor="middle" font-size="15.2" font-weight="bold" fill="#C00A1A" stroke="#C00A1A" stroke-width="0.15" textLength="46.2" lengthAdjust="spacingAndGlyphs">59 cm</text>
<rect x="51.9" y="649.35" width="674.9" height="36.95" fill="#F1F1EF"/><rect x="62.6" y="657.1" width="651.5" height="19.8" fill="#E4E4E4"/><line x1="389.2" y1="649.35" x2="389.2" y2="686.3" stroke="#F1F1EF" stroke-width="3.6"/><clipPath id="cp540"><rect x="51.9" y="649.35" width="674.9" height="36.95"/></clipPath><path d="M55.1,549.5H59.45 M65.2,549.5H69.8 M75.55,549.5H80.15 M85.9,549.5H90.5 M96.25,549.5H100.85 M106.6,549.5H111.2 M116.95,549.5H121.55 M127.3,549.5H131.9 M137.65,549.5H142.25 M148,549.5H152.6 M158.35,549.5H162.95 M168.7,549.5H173.3 M179.05,549.5H183.65 M189.4,549.5H194 M199.75,549.5H204.35 M210.1,549.5H214.7 M220.45,549.5H225.05 M230.8,549.5H235.4 M241.15,549.5H245.75 M251.5,549.5H256.1 M261.85,549.5H266.45 M272.2,549.5H276.8 M282.55,549.5H287.15 M292.9,549.5H297.5 M303.25,549.5H307.85 M313.6,549.5H318.2 M323.95,549.5H328.55 M334.3,549.5H338.9 M344.65,549.5H349.25 M355,549.5H359.6 M365.35,549.5H369.95 M375.7,549.5H380.3 M386.05,549.5H390.65 M396.4,549.5H401 M406.75,549.5H411.35 M417.1,549.5H421.7 M427.45,549.5H432.05 M437.8,549.5H442.4 M448.15,549.5H452.75 M458.5,549.5H463.1 M468.85,549.5H473.45 M479.2,549.5H483.8 M489.55,549.5H494.15 M499.9,549.5H504.5 M510.25,549.5H514.85 M520.6,549.5H525.2 M530.95,549.5H535.55 M541.3,549.5H545.9 M551.65,549.5H556.25 M562,549.5H566.6 M572.35,549.5H576.95 M582.7,549.5H587.3 M593.05,549.5H597.65 M603.4,549.5H608 M613.75,549.5H618.35 M624.1,549.5H628.7 M634.45,549.5H639.05 M644.8,549.5H649.4 M655.15,549.5H659.75 M665.5,549.5H670.1 M675.85,549.5H680.45 M686.2,549.5H690.8 M696.55,549.5H701.15 M706.9,549.5H711.5 M55.1,549.5H61.7M60.6,548.4V552.8 M716.1,552.8V548.4M715,549.5H720.3 M60.6,558.6V563.4 M60.6,568.95V573.75 M60.6,579.3V584.1 M60.6,589.65V594.45 M60.6,600V604.8 M60.6,610.35V615.15 M60.6,620.7V625.5 M60.6,631.05V635.85 M60.6,641.4V646.2 M716.1,558.6V563.4 M716.1,568.95V573.75 M716.1,579.3V584.1 M716.1,589.65V594.45 M716.1,600V604.8 M716.1,610.35V615.15 M716.1,620.7V625.5 M716.1,631.05V635.85 M716.1,641.4V646.2 M60.6,651.75V656.55 M60.6,662.1V666.9 M60.6,672.45V677.25 M60.6,682.8V684.8 M716.1,651.75V656.55 M716.1,662.1V666.9 M716.1,672.45V677.25 M716.1,682.8V684.8 M65.2,654.8H69.8 M75.55,654.8H80.15 M85.9,654.8H90.5 M96.25,654.8H100.85 M106.6,654.8H111.2 M116.95,654.8H121.55 M127.3,654.8H131.9 M137.65,654.8H142.25 M148,654.8H152.6 M158.35,654.8H162.95 M168.7,654.8H173.3 M179.05,654.8H183.65 M189.4,654.8H194 M199.75,654.8H204.35 M210.1,654.8H214.7 M220.45,654.8H225.05 M230.8,654.8H235.4 M241.15,654.8H245.75 M251.5,654.8H256.1 M261.85,654.8H266.45 M272.2,654.8H276.8 M282.55,654.8H287.15 M292.9,654.8H297.5 M303.25,654.8H307.85 M313.6,654.8H318.2 M323.95,654.8H328.55 M334.3,654.8H338.9 M344.65,654.8H349.25 M355,654.8H359.6 M365.35,654.8H369.95 M375.7,654.8H380.3 M386.05,654.8H390.65 M396.4,654.8H401 M406.75,654.8H411.35 M417.1,654.8H421.7 M427.45,654.8H432.05 M437.8,654.8H442.4 M448.15,654.8H452.75 M458.5,654.8H463.1 M468.85,654.8H473.45 M479.2,654.8H483.8 M489.55,654.8H494.15 M499.9,654.8H504.5 M510.25,654.8H514.85 M520.6,654.8H525.2 M530.95,654.8H535.55 M541.3,654.8H545.9 M551.65,654.8H556.25 M562,654.8H566.6 M572.35,654.8H576.95 M582.7,654.8H587.3 M593.05,654.8H597.65 M603.4,654.8H608 M613.75,654.8H618.35 M624.1,654.8H628.7 M634.45,654.8H639.05 M644.8,654.8H649.4 M655.15,654.8H659.75 M665.5,654.8H670.1 M675.85,654.8H680.45 M686.2,654.8H690.8 M696.55,654.8H701.15 M706.9,654.8H711.5 M65.2,679.2H69.8 M75.55,679.2H80.15 M85.9,679.2H90.5 M96.25,679.2H100.85 M106.6,679.2H111.2 M116.95,679.2H121.55 M127.3,679.2H131.9 M137.65,679.2H142.25 M148,679.2H152.6 M158.35,679.2H162.95 M168.7,679.2H173.3 M179.05,679.2H183.65 M189.4,679.2H194 M199.75,679.2H204.35 M210.1,679.2H214.7 M220.45,679.2H225.05 M230.8,679.2H235.4 M241.15,679.2H245.75 M251.5,679.2H256.1 M261.85,679.2H266.45 M272.2,679.2H276.8 M282.55,679.2H287.15 M292.9,679.2H297.5 M303.25,679.2H307.85 M313.6,679.2H318.2 M323.95,679.2H328.55 M334.3,679.2H338.9 M344.65,679.2H349.25 M355,679.2H359.6 M365.35,679.2H369.95 M375.7,679.2H380.3 M386.05,679.2H390.65 M396.4,679.2H401 M406.75,679.2H411.35 M417.1,679.2H421.7 M427.45,679.2H432.05 M437.8,679.2H442.4 M448.15,679.2H452.75 M458.5,679.2H463.1 M468.85,679.2H473.45 M479.2,679.2H483.8 M489.55,679.2H494.15 M499.9,679.2H504.5 M510.25,679.2H514.85 M520.6,679.2H525.2 M530.95,679.2H535.55 M541.3,679.2H545.9 M551.65,679.2H556.25 M562,679.2H566.6 M572.35,679.2H576.95 M582.7,679.2H587.3 M593.05,679.2H597.65 M603.4,679.2H608 M613.75,679.2H618.35 M624.1,679.2H628.7 M634.45,679.2H639.05 M644.8,679.2H649.4 M655.15,679.2H659.75 M665.5,679.2H670.1 M675.85,679.2H680.45 M686.2,679.2H690.8 M696.55,679.2H701.15 M706.9,679.2H711.5 M55.1,654.8H61.8 M55.1,679.2H59.1 M714.9,654.8H723.3 M717.6,679.2H723.3 M389.2,650.85V654.9 M389.2,660.45V665.25 M389.2,670.8V675.6 M389.2,681.15V684.8" fill="none" stroke="#111" stroke-width="2.05"/><path d="M81.6,646.9 L81.6,559.35 A2.75,2.75 0 0 1 87.1,559.35 L87.1,646.9" fill="#F4F4F2" stroke="#BEBEC8" stroke-width="2"/><line x1="84.35" y1="559.35" x2="84.35" y2="646.9" stroke="#BEBEC8" stroke-width="0.8"/><path d="M54.2,600L81,600M54.2,614L81,614" stroke="#111" stroke-width="2" fill="none"/><path d="M81,599.8 L81.78,599.94 L82.56,600.32 L83.33,600.78 L84.11,601.16 L84.89,601.3 L85.67,601.16 L86.45,600.78 L87.23,600.32 L88,599.94 L88.78,599.8 L89.56,599.94 L90.34,600.32 L91.12,600.78 L91.89,601.16 L92.67,601.3 L93.45,601.16 L94.23,600.78 L95.01,600.32 L95.78,599.94 L96.56,599.8 L97.34,599.94 L98.12,600.32 L98.9,600.78 L99.68,601.16 L100.45,601.3 L101.23,601.16 L102.01,600.78 L102.79,600.32 L103.57,599.94 L104.34,599.8 L105.12,599.94 L105.9,600.32 L106.68,600.78 L107.46,601.16 L108.24,601.3 L109.01,601.16 L109.79,600.78 L110.57,600.32 L111.35,599.94 L112.13,599.8 L112.9,599.94 L113.68,600.32 L114.46,600.78 L115.24,601.16 L116.02,601.3 L116.8,601.16 L117.57,600.78 L118.35,600.32 L119.13,599.94 L119.91,599.8 L120.69,599.94 L121.46,600.32 L122.24,600.78 L123.02,601.16 L123.8,601.3 L124.58,601.16 L125.35,600.78 L126.13,600.32 L126.91,599.94 L127.69,599.8 L128.47,599.94 L129.25,600.32 L130.02,600.78 L130.8,601.16 L131.58,601.3 L132.36,601.16 L133.14,600.78 L133.91,600.32 L134.69,599.94 L135.47,599.8 L136.25,599.94 L137.03,600.32 L137.81,600.78 L138.58,601.16 L139.36,601.3 L140.14,601.16 L140.92,600.78 L141.7,600.32 L142.47,599.94 L143.25,599.8 L144.03,599.94 L144.81,600.32 L145.59,600.78 L146.37,601.16 L147.14,601.3 L147.92,601.16 L148.7,600.78 L149.48,600.32 L150.26,599.94 L151.03,599.8 L151.81,599.94 L152.59,600.32 L153.37,600.78 L154.15,601.16 L154.93,601.3 L155.7,601.16 L156.48,600.78 L157.26,600.32 L158.04,599.94 L158.82,599.8 L159.59,599.94 L160.37,600.32 L161.15,600.78 L161.93,601.16 L162.71,601.3 L163.48,601.16 L164.26,600.78 L165.04,600.32 L165.82,599.94 L166.6,599.8 L167.38,599.94 L168.15,600.32 L168.93,600.78 L169.71,601.16 L170.49,601.3 L171.27,601.16 L172.04,600.78 L172.82,600.32 L173.6,599.94 L174.38,599.8 L175.16,599.94 L175.94,600.32 L176.71,600.78 L177.49,601.16 L178.27,601.3 L179.05,601.16 L179.83,600.78 L180.6,600.32 L181.38,599.94 L182.16,599.8 L182.94,599.94 L183.72,600.32 L184.5,600.78 L185.27,601.16 L186.05,601.3 L186.83,601.16 L187.61,600.78 L188.39,600.32 L189.16,599.94 L189.94,599.8 L190.72,599.94 L191.5,600.32 L192.28,600.78 L193.05,601.16 L193.83,601.3 L194.61,601.16 L195.39,600.78 L196.17,600.32 L196.95,599.94 L197.72,599.8 L198.5,599.94 L199.28,600.32 L200.06,600.78 L200.84,601.16 L201.61,601.3 L202.39,601.16 L203.17,600.78 L203.95,600.32 L204.73,599.94 L205.51,599.8 L206.28,599.94 L207.06,600.32 L207.84,600.78 L208.62,601.16 L209.4,601.3 L210.17,601.16 L210.95,600.78 L211.73,600.32 L212.51,599.94 L213.29,599.8 L214.06,599.94 L214.84,600.32 L215.62,600.78 L216.4,601.16 L217.18,601.3 L217.96,601.16 L218.73,600.78 L219.51,600.32 L220.29,599.94 L221.07,599.8 L221.85,599.94 L222.62,600.32 L223.4,600.78 L224.18,601.16 L224.96,601.3 L225.74,601.16 L226.52,600.78 L227.29,600.32 L228.07,599.94 L228.85,599.8 L229.63,599.94 L230.41,600.32 L231.18,600.78 L231.96,601.16 L232.74,601.3 L233.52,601.16 L234.3,600.78 L235.08,600.32 L235.85,599.94 L236.63,599.8 L237.41,599.94 L238.19,600.32 L238.97,600.78 L239.74,601.16 L240.52,601.3 L241.3,601.16 L242.08,600.78 L242.86,600.32 L243.63,599.94 L244.41,599.8 L245.19,599.94 L245.97,600.32 L246.75,600.78 L247.53,601.16 L248.3,601.3 L249.08,601.16 L249.86,600.78 L250.64,600.32 L251.42,599.94 L252.19,599.8 L252.97,599.94 L253.75,600.32 L254.53,600.78 L255.31,601.16 L256.09,601.3 L256.86,601.16 L257.64,600.78 L258.42,600.32 L259.2,599.94 L259.98,599.8 L260.75,599.94 L261.53,600.32 L262.31,600.78 L263.09,601.16 L263.87,601.3 L264.65,601.16 L265.42,600.78 L266.2,600.32 L266.98,599.94 L267.76,599.8 L268.54,599.94 L269.31,600.32 L270.09,600.78 L270.87,601.16 L271.65,601.3 L272.43,601.16 L273.2,600.78 L273.98,600.32 L274.76,599.94 L275.54,599.8 L276.32,599.94 L277.1,600.32 L277.87,600.78 L278.65,601.16 L279.43,601.3 L280.21,601.16 L280.99,600.78 L281.76,600.32 L282.54,599.94 L283.32,599.8 L284.1,599.94 L284.88,600.32 L285.66,600.78 L286.43,601.16 L287.21,601.3 L287.99,601.16 L288.77,600.78 L289.55,600.32 L290.32,599.94 L291.1,599.8 L291.88,599.94 L292.66,600.32 L293.44,600.78 L294.22,601.16 L294.99,601.3 L295.77,601.16 L296.55,600.78 L297.33,600.32 L298.11,599.94 L298.88,599.8 L299.66,599.94 L300.44,600.32 L301.22,600.78 L302,601.16 L302.77,601.3 L303.55,601.16 L304.33,600.78 L305.11,600.32 L305.89,599.94 L306.67,599.8 L307.44,599.94 L308.22,600.32 L309,600.78 L309.78,601.16 L310.56,601.3 L311.33,601.16 L312.11,600.78 L312.89,600.32 L313.67,599.94 L314.45,599.8 L315.23,599.94 L316,600.32 L316.78,600.78 L317.56,601.16 L318.34,601.3 L319.12,601.16 L319.89,600.78 L320.67,600.32 L321.45,599.94 L322.23,599.8 L323.01,599.94 L323.79,600.32 L324.56,600.78 L325.34,601.16 L326.12,601.3 L326.9,601.16 L327.68,600.78 L328.45,600.32 L329.23,599.94 L330.01,599.8 L330.79,599.94 L331.57,600.32 L332.34,600.78 L333.12,601.16 L333.9,601.3 L334.68,601.16 L335.46,600.78 L336.24,600.32 L337.01,599.94 L337.79,599.8 L338.57,599.94 L339.35,600.32 L340.13,600.78 L340.9,601.16 L341.68,601.3 L342.46,601.16 L343.24,600.78 L344.02,600.32 L344.8,599.94 L345.57,599.8 L346.35,599.94 L347.13,600.32 L347.91,600.78 L348.69,601.16 L349.46,601.3 L350.24,601.16 L351.02,600.78 L351.8,600.32 L352.58,599.94 L353.36,599.8 L354.13,599.94 L354.91,600.32 L355.69,600.78 L356.47,601.16 L357.25,601.3 L358.02,601.16 L358.8,600.78 L359.58,600.32 L360.36,599.94 L361.14,599.8 L361.92,599.94 L362.69,600.32 L363.47,600.78 L364.25,601.16 L365.03,601.3 L365.81,601.16 L366.58,600.78 L367.36,600.32 L368.14,599.94 L368.92,599.8 L369.7,599.94 L370.47,600.32 L371.25,600.78 L372.03,601.16 L372.81,601.3 L373.59,601.16 L374.37,600.78 L375.14,600.32 L375.92,599.94 L376.7,599.8 L376.7,613.6 L375.92,614.28 L375.14,614.89 L374.37,615.38 L373.59,615.69 L372.81,615.8 L372.03,615.69 L371.25,615.38 L370.47,614.89 L369.7,614.28 L368.92,613.6 L368.14,614.28 L367.36,614.89 L366.58,615.38 L365.81,615.69 L365.03,615.8 L364.25,615.69 L363.47,615.38 L362.69,614.89 L361.92,614.28 L361.14,613.6 L360.36,614.28 L359.58,614.89 L358.8,615.38 L358.02,615.69 L357.25,615.8 L356.47,615.69 L355.69,615.38 L354.91,614.89 L354.13,614.28 L353.36,613.6 L352.58,614.28 L351.8,614.89 L351.02,615.38 L350.24,615.69 L349.46,615.8 L348.69,615.69 L347.91,615.38 L347.13,614.89 L346.35,614.28 L345.57,613.6 L344.8,614.28 L344.02,614.89 L343.24,615.38 L342.46,615.69 L341.68,615.8 L340.9,615.69 L340.13,615.38 L339.35,614.89 L338.57,614.28 L337.79,613.6 L337.01,614.28 L336.24,614.89 L335.46,615.38 L334.68,615.69 L333.9,615.8 L333.12,615.69 L332.34,615.38 L331.57,614.89 L330.79,614.28 L330.01,613.6 L329.23,614.28 L328.45,614.89 L327.68,615.38 L326.9,615.69 L326.12,615.8 L325.34,615.69 L324.56,615.38 L323.79,614.89 L323.01,614.28 L322.23,613.6 L321.45,614.28 L320.67,614.89 L319.89,615.38 L319.12,615.69 L318.34,615.8 L317.56,615.69 L316.78,615.38 L316,614.89 L315.23,614.28 L314.45,613.6 L313.67,614.28 L312.89,614.89 L312.11,615.38 L311.33,615.69 L310.56,615.8 L309.78,615.69 L309,615.38 L308.22,614.89 L307.44,614.28 L306.67,613.6 L305.89,614.28 L305.11,614.89 L304.33,615.38 L303.55,615.69 L302.77,615.8 L302,615.69 L301.22,615.38 L300.44,614.89 L299.66,614.28 L298.88,613.6 L298.11,614.28 L297.33,614.89 L296.55,615.38 L295.77,615.69 L294.99,615.8 L294.22,615.69 L293.44,615.38 L292.66,614.89 L291.88,614.28 L291.1,613.6 L290.32,614.28 L289.55,614.89 L288.77,615.38 L287.99,615.69 L287.21,615.8 L286.43,615.69 L285.66,615.38 L284.88,614.89 L284.1,614.28 L283.32,613.6 L282.54,614.28 L281.76,614.89 L280.99,615.38 L280.21,615.69 L279.43,615.8 L278.65,615.69 L277.87,615.38 L277.1,614.89 L276.32,614.28 L275.54,613.6 L274.76,614.28 L273.98,614.89 L273.2,615.38 L272.43,615.69 L271.65,615.8 L270.87,615.69 L270.09,615.38 L269.31,614.89 L268.54,614.28 L267.76,613.6 L266.98,614.28 L266.2,614.89 L265.42,615.38 L264.65,615.69 L263.87,615.8 L263.09,615.69 L262.31,615.38 L261.53,614.89 L260.75,614.28 L259.98,613.6 L259.2,614.28 L258.42,614.89 L257.64,615.38 L256.86,615.69 L256.09,615.8 L255.31,615.69 L254.53,615.38 L253.75,614.89 L252.97,614.28 L252.19,613.6 L251.42,614.28 L250.64,614.89 L249.86,615.38 L249.08,615.69 L248.3,615.8 L247.53,615.69 L246.75,615.38 L245.97,614.89 L245.19,614.28 L244.41,613.6 L243.63,614.28 L242.86,614.89 L242.08,615.38 L241.3,615.69 L240.52,615.8 L239.74,615.69 L238.97,615.38 L238.19,614.89 L237.41,614.28 L236.63,613.6 L235.85,614.28 L235.08,614.89 L234.3,615.38 L233.52,615.69 L232.74,615.8 L231.96,615.69 L231.18,615.38 L230.41,614.89 L229.63,614.28 L228.85,613.6 L228.07,614.28 L227.29,614.89 L226.52,615.38 L225.74,615.69 L224.96,615.8 L224.18,615.69 L223.4,615.38 L222.62,614.89 L221.85,614.28 L221.07,613.6 L220.29,614.28 L219.51,614.89 L218.73,615.38 L217.96,615.69 L217.18,615.8 L216.4,615.69 L215.62,615.38 L214.84,614.89 L214.06,614.28 L213.29,613.6 L212.51,614.28 L211.73,614.89 L210.95,615.38 L210.17,615.69 L209.4,615.8 L208.62,615.69 L207.84,615.38 L207.06,614.89 L206.28,614.28 L205.51,613.6 L204.73,614.28 L203.95,614.89 L203.17,615.38 L202.39,615.69 L201.61,615.8 L200.84,615.69 L200.06,615.38 L199.28,614.89 L198.5,614.28 L197.72,613.6 L196.95,614.28 L196.17,614.89 L195.39,615.38 L194.61,615.69 L193.83,615.8 L193.05,615.69 L192.28,615.38 L191.5,614.89 L190.72,614.28 L189.94,613.6 L189.16,614.28 L188.39,614.89 L187.61,615.38 L186.83,615.69 L186.05,615.8 L185.27,615.69 L184.5,615.38 L183.72,614.89 L182.94,614.28 L182.16,613.6 L181.38,614.28 L180.6,614.89 L179.83,615.38 L179.05,615.69 L178.27,615.8 L177.49,615.69 L176.71,615.38 L175.94,614.89 L175.16,614.28 L174.38,613.6 L173.6,614.28 L172.82,614.89 L172.04,615.38 L171.27,615.69 L170.49,615.8 L169.71,615.69 L168.93,615.38 L168.15,614.89 L167.38,614.28 L166.6,613.6 L165.82,614.28 L165.04,614.89 L164.26,615.38 L163.48,615.69 L162.71,615.8 L161.93,615.69 L161.15,615.38 L160.37,614.89 L159.59,614.28 L158.82,613.6 L158.04,614.28 L157.26,614.89 L156.48,615.38 L155.7,615.69 L154.93,615.8 L154.15,615.69 L153.37,615.38 L152.59,614.89 L151.81,614.28 L151.03,613.6 L150.26,614.28 L149.48,614.89 L148.7,615.38 L147.92,615.69 L147.14,615.8 L146.37,615.69 L145.59,615.38 L144.81,614.89 L144.03,614.28 L143.25,613.6 L142.47,614.28 L141.7,614.89 L140.92,615.38 L140.14,615.69 L139.36,615.8 L138.58,615.69 L137.81,615.38 L137.03,614.89 L136.25,614.28 L135.47,613.6 L134.69,614.28 L133.91,614.89 L133.14,615.38 L132.36,615.69 L131.58,615.8 L130.8,615.69 L130.02,615.38 L129.25,614.89 L128.47,614.28 L127.69,613.6 L126.91,614.28 L126.13,614.89 L125.35,615.38 L124.58,615.69 L123.8,615.8 L123.02,615.69 L122.24,615.38 L121.46,614.89 L120.69,614.28 L119.91,613.6 L119.13,614.28 L118.35,614.89 L117.57,615.38 L116.8,615.69 L116.02,615.8 L115.24,615.69 L114.46,615.38 L113.68,614.89 L112.9,614.28 L112.13,613.6 L111.35,614.28 L110.57,614.89 L109.79,615.38 L109.01,615.69 L108.24,615.8 L107.46,615.69 L106.68,615.38 L105.9,614.89 L105.12,614.28 L104.34,613.6 L103.57,614.28 L102.79,614.89 L102.01,615.38 L101.23,615.69 L100.45,615.8 L99.68,615.69 L98.9,615.38 L98.12,614.89 L97.34,614.28 L96.56,613.6 L95.78,614.28 L95.01,614.89 L94.23,615.38 L93.45,615.69 L92.67,615.8 L91.89,615.69 L91.12,615.38 L90.34,614.89 L89.56,614.28 L88.78,613.6 L88,614.28 L87.23,614.89 L86.45,615.38 L85.67,615.69 L84.89,615.8 L84.11,615.69 L83.33,615.38 L82.56,614.89 L81.78,614.28 L81,613.6 Z" fill="#FDFFE8"/><path d="M81,599.8 L81.78,599.94 L82.56,600.32 L83.33,600.78 L84.11,601.16 L84.89,601.3 L85.67,601.16 L86.45,600.78 L87.23,600.32 L88,599.94 L88.78,599.8 L89.56,599.94 L90.34,600.32 L91.12,600.78 L91.89,601.16 L92.67,601.3 L93.45,601.16 L94.23,600.78 L95.01,600.32 L95.78,599.94 L96.56,599.8 L97.34,599.94 L98.12,600.32 L98.9,600.78 L99.68,601.16 L100.45,601.3 L101.23,601.16 L102.01,600.78 L102.79,600.32 L103.57,599.94 L104.34,599.8 L105.12,599.94 L105.9,600.32 L106.68,600.78 L107.46,601.16 L108.24,601.3 L109.01,601.16 L109.79,600.78 L110.57,600.32 L111.35,599.94 L112.13,599.8 L112.9,599.94 L113.68,600.32 L114.46,600.78 L115.24,601.16 L116.02,601.3 L116.8,601.16 L117.57,600.78 L118.35,600.32 L119.13,599.94 L119.91,599.8 L120.69,599.94 L121.46,600.32 L122.24,600.78 L123.02,601.16 L123.8,601.3 L124.58,601.16 L125.35,600.78 L126.13,600.32 L126.91,599.94 L127.69,599.8 L128.47,599.94 L129.25,600.32 L130.02,600.78 L130.8,601.16 L131.58,601.3 L132.36,601.16 L133.14,600.78 L133.91,600.32 L134.69,599.94 L135.47,599.8 L136.25,599.94 L137.03,600.32 L137.81,600.78 L138.58,601.16 L139.36,601.3 L140.14,601.16 L140.92,600.78 L141.7,600.32 L142.47,599.94 L143.25,599.8 L144.03,599.94 L144.81,600.32 L145.59,600.78 L146.37,601.16 L147.14,601.3 L147.92,601.16 L148.7,600.78 L149.48,600.32 L150.26,599.94 L151.03,599.8 L151.81,599.94 L152.59,600.32 L153.37,600.78 L154.15,601.16 L154.93,601.3 L155.7,601.16 L156.48,600.78 L157.26,600.32 L158.04,599.94 L158.82,599.8 L159.59,599.94 L160.37,600.32 L161.15,600.78 L161.93,601.16 L162.71,601.3 L163.48,601.16 L164.26,600.78 L165.04,600.32 L165.82,599.94 L166.6,599.8 L167.38,599.94 L168.15,600.32 L168.93,600.78 L169.71,601.16 L170.49,601.3 L171.27,601.16 L172.04,600.78 L172.82,600.32 L173.6,599.94 L174.38,599.8 L175.16,599.94 L175.94,600.32 L176.71,600.78 L177.49,601.16 L178.27,601.3 L179.05,601.16 L179.83,600.78 L180.6,600.32 L181.38,599.94 L182.16,599.8 L182.94,599.94 L183.72,600.32 L184.5,600.78 L185.27,601.16 L186.05,601.3 L186.83,601.16 L187.61,600.78 L188.39,600.32 L189.16,599.94 L189.94,599.8 L190.72,599.94 L191.5,600.32 L192.28,600.78 L193.05,601.16 L193.83,601.3 L194.61,601.16 L195.39,600.78 L196.17,600.32 L196.95,599.94 L197.72,599.8 L198.5,599.94 L199.28,600.32 L200.06,600.78 L200.84,601.16 L201.61,601.3 L202.39,601.16 L203.17,600.78 L203.95,600.32 L204.73,599.94 L205.51,599.8 L206.28,599.94 L207.06,600.32 L207.84,600.78 L208.62,601.16 L209.4,601.3 L210.17,601.16 L210.95,600.78 L211.73,600.32 L212.51,599.94 L213.29,599.8 L214.06,599.94 L214.84,600.32 L215.62,600.78 L216.4,601.16 L217.18,601.3 L217.96,601.16 L218.73,600.78 L219.51,600.32 L220.29,599.94 L221.07,599.8 L221.85,599.94 L222.62,600.32 L223.4,600.78 L224.18,601.16 L224.96,601.3 L225.74,601.16 L226.52,600.78 L227.29,600.32 L228.07,599.94 L228.85,599.8 L229.63,599.94 L230.41,600.32 L231.18,600.78 L231.96,601.16 L232.74,601.3 L233.52,601.16 L234.3,600.78 L235.08,600.32 L235.85,599.94 L236.63,599.8 L237.41,599.94 L238.19,600.32 L238.97,600.78 L239.74,601.16 L240.52,601.3 L241.3,601.16 L242.08,600.78 L242.86,600.32 L243.63,599.94 L244.41,599.8 L245.19,599.94 L245.97,600.32 L246.75,600.78 L247.53,601.16 L248.3,601.3 L249.08,601.16 L249.86,600.78 L250.64,600.32 L251.42,599.94 L252.19,599.8 L252.97,599.94 L253.75,600.32 L254.53,600.78 L255.31,601.16 L256.09,601.3 L256.86,601.16 L257.64,600.78 L258.42,600.32 L259.2,599.94 L259.98,599.8 L260.75,599.94 L261.53,600.32 L262.31,600.78 L263.09,601.16 L263.87,601.3 L264.65,601.16 L265.42,600.78 L266.2,600.32 L266.98,599.94 L267.76,599.8 L268.54,599.94 L269.31,600.32 L270.09,600.78 L270.87,601.16 L271.65,601.3 L272.43,601.16 L273.2,600.78 L273.98,600.32 L274.76,599.94 L275.54,599.8 L276.32,599.94 L277.1,600.32 L277.87,600.78 L278.65,601.16 L279.43,601.3 L280.21,601.16 L280.99,600.78 L281.76,600.32 L282.54,599.94 L283.32,599.8 L284.1,599.94 L284.88,600.32 L285.66,600.78 L286.43,601.16 L287.21,601.3 L287.99,601.16 L288.77,600.78 L289.55,600.32 L290.32,599.94 L291.1,599.8 L291.88,599.94 L292.66,600.32 L293.44,600.78 L294.22,601.16 L294.99,601.3 L295.77,601.16 L296.55,600.78 L297.33,600.32 L298.11,599.94 L298.88,599.8 L299.66,599.94 L300.44,600.32 L301.22,600.78 L302,601.16 L302.77,601.3 L303.55,601.16 L304.33,600.78 L305.11,600.32 L305.89,599.94 L306.67,599.8 L307.44,599.94 L308.22,600.32 L309,600.78 L309.78,601.16 L310.56,601.3 L311.33,601.16 L312.11,600.78 L312.89,600.32 L313.67,599.94 L314.45,599.8 L315.23,599.94 L316,600.32 L316.78,600.78 L317.56,601.16 L318.34,601.3 L319.12,601.16 L319.89,600.78 L320.67,600.32 L321.45,599.94 L322.23,599.8 L323.01,599.94 L323.79,600.32 L324.56,600.78 L325.34,601.16 L326.12,601.3 L326.9,601.16 L327.68,600.78 L328.45,600.32 L329.23,599.94 L330.01,599.8 L330.79,599.94 L331.57,600.32 L332.34,600.78 L333.12,601.16 L333.9,601.3 L334.68,601.16 L335.46,600.78 L336.24,600.32 L337.01,599.94 L337.79,599.8 L338.57,599.94 L339.35,600.32 L340.13,600.78 L340.9,601.16 L341.68,601.3 L342.46,601.16 L343.24,600.78 L344.02,600.32 L344.8,599.94 L345.57,599.8 L346.35,599.94 L347.13,600.32 L347.91,600.78 L348.69,601.16 L349.46,601.3 L350.24,601.16 L351.02,600.78 L351.8,600.32 L352.58,599.94 L353.36,599.8 L354.13,599.94 L354.91,600.32 L355.69,600.78 L356.47,601.16 L357.25,601.3 L358.02,601.16 L358.8,600.78 L359.58,600.32 L360.36,599.94 L361.14,599.8 L361.92,599.94 L362.69,600.32 L363.47,600.78 L364.25,601.16 L365.03,601.3 L365.81,601.16 L366.58,600.78 L367.36,600.32 L368.14,599.94 L368.92,599.8 L369.7,599.94 L370.47,600.32 L371.25,600.78 L372.03,601.16 L372.81,601.3 L373.59,601.16 L374.37,600.78 L375.14,600.32 L375.92,599.94 L376.7,599.8 M81,613.6 L81.78,614.28 L82.56,614.89 L83.33,615.38 L84.11,615.69 L84.89,615.8 L85.67,615.69 L86.45,615.38 L87.23,614.89 L88,614.28 L88.78,613.6 L89.56,614.28 L90.34,614.89 L91.12,615.38 L91.89,615.69 L92.67,615.8 L93.45,615.69 L94.23,615.38 L95.01,614.89 L95.78,614.28 L96.56,613.6 L97.34,614.28 L98.12,614.89 L98.9,615.38 L99.68,615.69 L100.45,615.8 L101.23,615.69 L102.01,615.38 L102.79,614.89 L103.57,614.28 L104.34,613.6 L105.12,614.28 L105.9,614.89 L106.68,615.38 L107.46,615.69 L108.24,615.8 L109.01,615.69 L109.79,615.38 L110.57,614.89 L111.35,614.28 L112.13,613.6 L112.9,614.28 L113.68,614.89 L114.46,615.38 L115.24,615.69 L116.02,615.8 L116.8,615.69 L117.57,615.38 L118.35,614.89 L119.13,614.28 L119.91,613.6 L120.69,614.28 L121.46,614.89 L122.24,615.38 L123.02,615.69 L123.8,615.8 L124.58,615.69 L125.35,615.38 L126.13,614.89 L126.91,614.28 L127.69,613.6 L128.47,614.28 L129.25,614.89 L130.02,615.38 L130.8,615.69 L131.58,615.8 L132.36,615.69 L133.14,615.38 L133.91,614.89 L134.69,614.28 L135.47,613.6 L136.25,614.28 L137.03,614.89 L137.81,615.38 L138.58,615.69 L139.36,615.8 L140.14,615.69 L140.92,615.38 L141.7,614.89 L142.47,614.28 L143.25,613.6 L144.03,614.28 L144.81,614.89 L145.59,615.38 L146.37,615.69 L147.14,615.8 L147.92,615.69 L148.7,615.38 L149.48,614.89 L150.26,614.28 L151.03,613.6 L151.81,614.28 L152.59,614.89 L153.37,615.38 L154.15,615.69 L154.93,615.8 L155.7,615.69 L156.48,615.38 L157.26,614.89 L158.04,614.28 L158.82,613.6 L159.59,614.28 L160.37,614.89 L161.15,615.38 L161.93,615.69 L162.71,615.8 L163.48,615.69 L164.26,615.38 L165.04,614.89 L165.82,614.28 L166.6,613.6 L167.38,614.28 L168.15,614.89 L168.93,615.38 L169.71,615.69 L170.49,615.8 L171.27,615.69 L172.04,615.38 L172.82,614.89 L173.6,614.28 L174.38,613.6 L175.16,614.28 L175.94,614.89 L176.71,615.38 L177.49,615.69 L178.27,615.8 L179.05,615.69 L179.83,615.38 L180.6,614.89 L181.38,614.28 L182.16,613.6 L182.94,614.28 L183.72,614.89 L184.5,615.38 L185.27,615.69 L186.05,615.8 L186.83,615.69 L187.61,615.38 L188.39,614.89 L189.16,614.28 L189.94,613.6 L190.72,614.28 L191.5,614.89 L192.28,615.38 L193.05,615.69 L193.83,615.8 L194.61,615.69 L195.39,615.38 L196.17,614.89 L196.95,614.28 L197.72,613.6 L198.5,614.28 L199.28,614.89 L200.06,615.38 L200.84,615.69 L201.61,615.8 L202.39,615.69 L203.17,615.38 L203.95,614.89 L204.73,614.28 L205.51,613.6 L206.28,614.28 L207.06,614.89 L207.84,615.38 L208.62,615.69 L209.4,615.8 L210.17,615.69 L210.95,615.38 L211.73,614.89 L212.51,614.28 L213.29,613.6 L214.06,614.28 L214.84,614.89 L215.62,615.38 L216.4,615.69 L217.18,615.8 L217.96,615.69 L218.73,615.38 L219.51,614.89 L220.29,614.28 L221.07,613.6 L221.85,614.28 L222.62,614.89 L223.4,615.38 L224.18,615.69 L224.96,615.8 L225.74,615.69 L226.52,615.38 L227.29,614.89 L228.07,614.28 L228.85,613.6 L229.63,614.28 L230.41,614.89 L231.18,615.38 L231.96,615.69 L232.74,615.8 L233.52,615.69 L234.3,615.38 L235.08,614.89 L235.85,614.28 L236.63,613.6 L237.41,614.28 L238.19,614.89 L238.97,615.38 L239.74,615.69 L240.52,615.8 L241.3,615.69 L242.08,615.38 L242.86,614.89 L243.63,614.28 L244.41,613.6 L245.19,614.28 L245.97,614.89 L246.75,615.38 L247.53,615.69 L248.3,615.8 L249.08,615.69 L249.86,615.38 L250.64,614.89 L251.42,614.28 L252.19,613.6 L252.97,614.28 L253.75,614.89 L254.53,615.38 L255.31,615.69 L256.09,615.8 L256.86,615.69 L257.64,615.38 L258.42,614.89 L259.2,614.28 L259.98,613.6 L260.75,614.28 L261.53,614.89 L262.31,615.38 L263.09,615.69 L263.87,615.8 L264.65,615.69 L265.42,615.38 L266.2,614.89 L266.98,614.28 L267.76,613.6 L268.54,614.28 L269.31,614.89 L270.09,615.38 L270.87,615.69 L271.65,615.8 L272.43,615.69 L273.2,615.38 L273.98,614.89 L274.76,614.28 L275.54,613.6 L276.32,614.28 L277.1,614.89 L277.87,615.38 L278.65,615.69 L279.43,615.8 L280.21,615.69 L280.99,615.38 L281.76,614.89 L282.54,614.28 L283.32,613.6 L284.1,614.28 L284.88,614.89 L285.66,615.38 L286.43,615.69 L287.21,615.8 L287.99,615.69 L288.77,615.38 L289.55,614.89 L290.32,614.28 L291.1,613.6 L291.88,614.28 L292.66,614.89 L293.44,615.38 L294.22,615.69 L294.99,615.8 L295.77,615.69 L296.55,615.38 L297.33,614.89 L298.11,614.28 L298.88,613.6 L299.66,614.28 L300.44,614.89 L301.22,615.38 L302,615.69 L302.77,615.8 L303.55,615.69 L304.33,615.38 L305.11,614.89 L305.89,614.28 L306.67,613.6 L307.44,614.28 L308.22,614.89 L309,615.38 L309.78,615.69 L310.56,615.8 L311.33,615.69 L312.11,615.38 L312.89,614.89 L313.67,614.28 L314.45,613.6 L315.23,614.28 L316,614.89 L316.78,615.38 L317.56,615.69 L318.34,615.8 L319.12,615.69 L319.89,615.38 L320.67,614.89 L321.45,614.28 L322.23,613.6 L323.01,614.28 L323.79,614.89 L324.56,615.38 L325.34,615.69 L326.12,615.8 L326.9,615.69 L327.68,615.38 L328.45,614.89 L329.23,614.28 L330.01,613.6 L330.79,614.28 L331.57,614.89 L332.34,615.38 L333.12,615.69 L333.9,615.8 L334.68,615.69 L335.46,615.38 L336.24,614.89 L337.01,614.28 L337.79,613.6 L338.57,614.28 L339.35,614.89 L340.13,615.38 L340.9,615.69 L341.68,615.8 L342.46,615.69 L343.24,615.38 L344.02,614.89 L344.8,614.28 L345.57,613.6 L346.35,614.28 L347.13,614.89 L347.91,615.38 L348.69,615.69 L349.46,615.8 L350.24,615.69 L351.02,615.38 L351.8,614.89 L352.58,614.28 L353.36,613.6 L354.13,614.28 L354.91,614.89 L355.69,615.38 L356.47,615.69 L357.25,615.8 L358.02,615.69 L358.8,615.38 L359.58,614.89 L360.36,614.28 L361.14,613.6 L361.92,614.28 L362.69,614.89 L363.47,615.38 L364.25,615.69 L365.03,615.8 L365.81,615.69 L366.58,615.38 L367.36,614.89 L368.14,614.28 L368.92,613.6 L369.7,614.28 L370.47,614.89 L371.25,615.38 L372.03,615.69 L372.81,615.8 L373.59,615.69 L374.37,615.38 L375.14,614.89 L375.92,614.28 L376.7,613.6" fill="none" stroke="#111" stroke-width="2.1" stroke-linejoin="round"/><path d="M81,599.8L81,613.6M88.78,599.8L88.78,613.6M96.56,599.8L96.56,613.6M104.34,599.8L104.34,613.6M112.13,599.8L112.13,613.6M119.91,599.8L119.91,613.6M127.69,599.8L127.69,613.6M135.47,599.8L135.47,613.6M143.25,599.8L143.25,613.6M151.03,599.8L151.03,613.6M158.82,599.8L158.82,613.6M166.6,599.8L166.6,613.6M174.38,599.8L174.38,613.6M182.16,599.8L182.16,613.6M189.94,599.8L189.94,613.6M197.72,599.8L197.72,613.6M205.51,599.8L205.51,613.6M213.29,599.8L213.29,613.6M221.07,599.8L221.07,613.6M228.85,599.8L228.85,613.6M236.63,599.8L236.63,613.6M244.41,599.8L244.41,613.6M252.19,599.8L252.19,613.6M259.98,599.8L259.98,613.6M267.76,599.8L267.76,613.6M275.54,599.8L275.54,613.6M283.32,599.8L283.32,613.6M291.1,599.8L291.1,613.6M298.88,599.8L298.88,613.6M306.67,599.8L306.67,613.6M314.45,599.8L314.45,613.6M322.23,599.8L322.23,613.6M330.01,599.8L330.01,613.6M337.79,599.8L337.79,613.6M345.57,599.8L345.57,613.6M353.36,599.8L353.36,613.6M361.14,599.8L361.14,613.6M368.92,599.8L368.92,613.6M376.7,599.8L376.7,613.6" fill="none" stroke="#111" stroke-width="2.5"/><path d="M403.7,599.8 L404.48,599.94 L405.25,600.32 L406.03,600.78 L406.81,601.16 L407.58,601.3 L408.36,601.16 L409.14,600.78 L409.91,600.32 L410.69,599.94 L411.46,599.8 L412.24,599.94 L413.02,600.32 L413.79,600.78 L414.57,601.16 L415.35,601.3 L416.12,601.16 L416.9,600.78 L417.68,600.32 L418.45,599.94 L419.23,599.8 L420.01,599.94 L420.78,600.32 L421.56,600.78 L422.33,601.16 L423.11,601.3 L423.89,601.16 L424.66,600.78 L425.44,600.32 L426.22,599.94 L426.99,599.8 L427.77,599.94 L428.55,600.32 L429.32,600.78 L430.1,601.16 L430.88,601.3 L431.65,601.16 L432.43,600.78 L433.2,600.32 L433.98,599.94 L434.76,599.8 L435.53,599.94 L436.31,600.32 L437.09,600.78 L437.86,601.16 L438.64,601.3 L439.42,601.16 L440.19,600.78 L440.97,600.32 L441.75,599.94 L442.52,599.8 L443.3,599.94 L444.08,600.32 L444.85,600.78 L445.63,601.16 L446.4,601.3 L447.18,601.16 L447.96,600.78 L448.73,600.32 L449.51,599.94 L450.29,599.8 L451.06,599.94 L451.84,600.32 L452.62,600.78 L453.39,601.16 L454.17,601.3 L454.95,601.16 L455.72,600.78 L456.5,600.32 L457.27,599.94 L458.05,599.8 L458.83,599.94 L459.6,600.32 L460.38,600.78 L461.16,601.16 L461.93,601.3 L462.71,601.16 L463.49,600.78 L464.26,600.32 L465.04,599.94 L465.82,599.8 L466.59,599.94 L467.37,600.32 L468.15,600.78 L468.92,601.16 L469.7,601.3 L470.47,601.16 L471.25,600.78 L472.03,600.32 L472.8,599.94 L473.58,599.8 L474.36,599.94 L475.13,600.32 L475.91,600.78 L476.69,601.16 L477.46,601.3 L478.24,601.16 L479.02,600.78 L479.79,600.32 L480.57,599.94 L481.34,599.8 L482.12,599.94 L482.9,600.32 L483.67,600.78 L484.45,601.16 L485.23,601.3 L486,601.16 L486.78,600.78 L487.56,600.32 L488.33,599.94 L489.11,599.8 L489.89,599.94 L490.66,600.32 L491.44,600.78 L492.21,601.16 L492.99,601.3 L493.77,601.16 L494.54,600.78 L495.32,600.32 L496.1,599.94 L496.87,599.8 L497.65,599.94 L498.43,600.32 L499.2,600.78 L499.98,601.16 L500.76,601.3 L501.53,601.16 L502.31,600.78 L503.09,600.32 L503.86,599.94 L504.64,599.8 L505.41,599.94 L506.19,600.32 L506.97,600.78 L507.74,601.16 L508.52,601.3 L509.3,601.16 L510.07,600.78 L510.85,600.32 L511.63,599.94 L512.4,599.8 L513.18,599.94 L513.96,600.32 L514.73,600.78 L515.51,601.16 L516.28,601.3 L517.06,601.16 L517.84,600.78 L518.61,600.32 L519.39,599.94 L520.17,599.8 L520.94,599.94 L521.72,600.32 L522.5,600.78 L523.27,601.16 L524.05,601.3 L524.83,601.16 L525.6,600.78 L526.38,600.32 L527.16,599.94 L527.93,599.8 L528.71,599.94 L529.48,600.32 L530.26,600.78 L531.04,601.16 L531.81,601.3 L532.59,601.16 L533.37,600.78 L534.14,600.32 L534.92,599.94 L535.7,599.8 L536.47,599.94 L537.25,600.32 L538.03,600.78 L538.8,601.16 L539.58,601.3 L540.35,601.16 L541.13,600.78 L541.91,600.32 L542.68,599.94 L543.46,599.8 L544.24,599.94 L545.01,600.32 L545.79,600.78 L546.57,601.16 L547.34,601.3 L548.12,601.16 L548.9,600.78 L549.67,600.32 L550.45,599.94 L551.23,599.8 L552,599.94 L552.78,600.32 L553.55,600.78 L554.33,601.16 L555.11,601.3 L555.88,601.16 L556.66,600.78 L557.44,600.32 L558.21,599.94 L558.99,599.8 L559.77,599.94 L560.54,600.32 L561.32,600.78 L562.1,601.16 L562.87,601.3 L563.65,601.16 L564.42,600.78 L565.2,600.32 L565.98,599.94 L566.75,599.8 L567.53,599.94 L568.31,600.32 L569.08,600.78 L569.86,601.16 L570.64,601.3 L571.41,601.16 L572.19,600.78 L572.97,600.32 L573.74,599.94 L574.52,599.8 L575.29,599.94 L576.07,600.32 L576.85,600.78 L577.62,601.16 L578.4,601.3 L579.18,601.16 L579.95,600.78 L580.73,600.32 L581.51,599.94 L582.28,599.8 L583.06,599.94 L583.84,600.32 L584.61,600.78 L585.39,601.16 L586.17,601.3 L586.94,601.16 L587.72,600.78 L588.49,600.32 L589.27,599.94 L590.05,599.8 L590.82,599.94 L591.6,600.32 L592.38,600.78 L593.15,601.16 L593.93,601.3 L594.71,601.16 L595.48,600.78 L596.26,600.32 L597.04,599.94 L597.81,599.8 L598.59,599.94 L599.36,600.32 L600.14,600.78 L600.92,601.16 L601.69,601.3 L602.47,601.16 L603.25,600.78 L604.02,600.32 L604.8,599.94 L605.58,599.8 L606.35,599.94 L607.13,600.32 L607.91,600.78 L608.68,601.16 L609.46,601.3 L610.24,601.16 L611.01,600.78 L611.79,600.32 L612.56,599.94 L613.34,599.8 L614.12,599.94 L614.89,600.32 L615.67,600.78 L616.45,601.16 L617.22,601.3 L618,601.16 L618.78,600.78 L619.55,600.32 L620.33,599.94 L621.11,599.8 L621.88,599.94 L622.66,600.32 L623.43,600.78 L624.21,601.16 L624.99,601.3 L625.76,601.16 L626.54,600.78 L627.32,600.32 L628.09,599.94 L628.87,599.8 L629.65,599.94 L630.42,600.32 L631.2,600.78 L631.98,601.16 L632.75,601.3 L633.53,601.16 L634.3,600.78 L635.08,600.32 L635.86,599.94 L636.63,599.8 L637.41,599.94 L638.19,600.32 L638.96,600.78 L639.74,601.16 L640.52,601.3 L641.29,601.16 L642.07,600.78 L642.85,600.32 L643.62,599.94 L644.4,599.8 L645.18,599.94 L645.95,600.32 L646.73,600.78 L647.5,601.16 L648.28,601.3 L649.06,601.16 L649.83,600.78 L650.61,600.32 L651.39,599.94 L652.16,599.8 L652.94,599.94 L653.72,600.32 L654.49,600.78 L655.27,601.16 L656.05,601.3 L656.82,601.16 L657.6,600.78 L658.37,600.32 L659.15,599.94 L659.93,599.8 L660.7,599.94 L661.48,600.32 L662.26,600.78 L663.03,601.16 L663.81,601.3 L664.59,601.16 L665.36,600.78 L666.14,600.32 L666.92,599.94 L667.69,599.8 L668.47,599.94 L669.25,600.32 L670.02,600.78 L670.8,601.16 L671.57,601.3 L672.35,601.16 L673.13,600.78 L673.9,600.32 L674.68,599.94 L675.46,599.8 L676.23,599.94 L677.01,600.32 L677.79,600.78 L678.56,601.16 L679.34,601.3 L680.12,601.16 L680.89,600.78 L681.67,600.32 L682.44,599.94 L683.22,599.8 L684,599.94 L684.77,600.32 L685.55,600.78 L686.33,601.16 L687.1,601.3 L687.88,601.16 L688.66,600.78 L689.43,600.32 L690.21,599.94 L690.99,599.8 L691.76,599.94 L692.54,600.32 L693.31,600.78 L694.09,601.16 L694.87,601.3 L695.64,601.16 L696.42,600.78 L697.2,600.32 L697.97,599.94 L698.75,599.8 L698.75,613.6 L697.97,614.28 L697.2,614.89 L696.42,615.38 L695.64,615.69 L694.87,615.8 L694.09,615.69 L693.31,615.38 L692.54,614.89 L691.76,614.28 L690.99,613.6 L690.21,614.28 L689.43,614.89 L688.66,615.38 L687.88,615.69 L687.1,615.8 L686.33,615.69 L685.55,615.38 L684.77,614.89 L684,614.28 L683.22,613.6 L682.44,614.28 L681.67,614.89 L680.89,615.38 L680.12,615.69 L679.34,615.8 L678.56,615.69 L677.79,615.38 L677.01,614.89 L676.23,614.28 L675.46,613.6 L674.68,614.28 L673.9,614.89 L673.13,615.38 L672.35,615.69 L671.57,615.8 L670.8,615.69 L670.02,615.38 L669.25,614.89 L668.47,614.28 L667.69,613.6 L666.92,614.28 L666.14,614.89 L665.36,615.38 L664.59,615.69 L663.81,615.8 L663.03,615.69 L662.26,615.38 L661.48,614.89 L660.7,614.28 L659.93,613.6 L659.15,614.28 L658.37,614.89 L657.6,615.38 L656.82,615.69 L656.05,615.8 L655.27,615.69 L654.49,615.38 L653.72,614.89 L652.94,614.28 L652.16,613.6 L651.39,614.28 L650.61,614.89 L649.83,615.38 L649.06,615.69 L648.28,615.8 L647.5,615.69 L646.73,615.38 L645.95,614.89 L645.18,614.28 L644.4,613.6 L643.62,614.28 L642.85,614.89 L642.07,615.38 L641.29,615.69 L640.52,615.8 L639.74,615.69 L638.96,615.38 L638.19,614.89 L637.41,614.28 L636.63,613.6 L635.86,614.28 L635.08,614.89 L634.3,615.38 L633.53,615.69 L632.75,615.8 L631.98,615.69 L631.2,615.38 L630.42,614.89 L629.65,614.28 L628.87,613.6 L628.09,614.28 L627.32,614.89 L626.54,615.38 L625.76,615.69 L624.99,615.8 L624.21,615.69 L623.43,615.38 L622.66,614.89 L621.88,614.28 L621.11,613.6 L620.33,614.28 L619.55,614.89 L618.78,615.38 L618,615.69 L617.22,615.8 L616.45,615.69 L615.67,615.38 L614.89,614.89 L614.12,614.28 L613.34,613.6 L612.56,614.28 L611.79,614.89 L611.01,615.38 L610.24,615.69 L609.46,615.8 L608.68,615.69 L607.91,615.38 L607.13,614.89 L606.35,614.28 L605.58,613.6 L604.8,614.28 L604.02,614.89 L603.25,615.38 L602.47,615.69 L601.69,615.8 L600.92,615.69 L600.14,615.38 L599.36,614.89 L598.59,614.28 L597.81,613.6 L597.04,614.28 L596.26,614.89 L595.48,615.38 L594.71,615.69 L593.93,615.8 L593.15,615.69 L592.38,615.38 L591.6,614.89 L590.82,614.28 L590.05,613.6 L589.27,614.28 L588.49,614.89 L587.72,615.38 L586.94,615.69 L586.17,615.8 L585.39,615.69 L584.61,615.38 L583.84,614.89 L583.06,614.28 L582.28,613.6 L581.51,614.28 L580.73,614.89 L579.95,615.38 L579.18,615.69 L578.4,615.8 L577.62,615.69 L576.85,615.38 L576.07,614.89 L575.29,614.28 L574.52,613.6 L573.74,614.28 L572.97,614.89 L572.19,615.38 L571.41,615.69 L570.64,615.8 L569.86,615.69 L569.08,615.38 L568.31,614.89 L567.53,614.28 L566.75,613.6 L565.98,614.28 L565.2,614.89 L564.42,615.38 L563.65,615.69 L562.87,615.8 L562.1,615.69 L561.32,615.38 L560.54,614.89 L559.77,614.28 L558.99,613.6 L558.21,614.28 L557.44,614.89 L556.66,615.38 L555.88,615.69 L555.11,615.8 L554.33,615.69 L553.55,615.38 L552.78,614.89 L552,614.28 L551.23,613.6 L550.45,614.28 L549.67,614.89 L548.9,615.38 L548.12,615.69 L547.34,615.8 L546.57,615.69 L545.79,615.38 L545.01,614.89 L544.24,614.28 L543.46,613.6 L542.68,614.28 L541.91,614.89 L541.13,615.38 L540.35,615.69 L539.58,615.8 L538.8,615.69 L538.03,615.38 L537.25,614.89 L536.47,614.28 L535.7,613.6 L534.92,614.28 L534.14,614.89 L533.37,615.38 L532.59,615.69 L531.81,615.8 L531.04,615.69 L530.26,615.38 L529.48,614.89 L528.71,614.28 L527.93,613.6 L527.16,614.28 L526.38,614.89 L525.6,615.38 L524.83,615.69 L524.05,615.8 L523.27,615.69 L522.5,615.38 L521.72,614.89 L520.94,614.28 L520.17,613.6 L519.39,614.28 L518.61,614.89 L517.84,615.38 L517.06,615.69 L516.28,615.8 L515.51,615.69 L514.73,615.38 L513.96,614.89 L513.18,614.28 L512.4,613.6 L511.63,614.28 L510.85,614.89 L510.07,615.38 L509.3,615.69 L508.52,615.8 L507.74,615.69 L506.97,615.38 L506.19,614.89 L505.41,614.28 L504.64,613.6 L503.86,614.28 L503.09,614.89 L502.31,615.38 L501.53,615.69 L500.76,615.8 L499.98,615.69 L499.2,615.38 L498.43,614.89 L497.65,614.28 L496.87,613.6 L496.1,614.28 L495.32,614.89 L494.54,615.38 L493.77,615.69 L492.99,615.8 L492.21,615.69 L491.44,615.38 L490.66,614.89 L489.89,614.28 L489.11,613.6 L488.33,614.28 L487.56,614.89 L486.78,615.38 L486,615.69 L485.23,615.8 L484.45,615.69 L483.67,615.38 L482.9,614.89 L482.12,614.28 L481.34,613.6 L480.57,614.28 L479.79,614.89 L479.02,615.38 L478.24,615.69 L477.46,615.8 L476.69,615.69 L475.91,615.38 L475.13,614.89 L474.36,614.28 L473.58,613.6 L472.8,614.28 L472.03,614.89 L471.25,615.38 L470.47,615.69 L469.7,615.8 L468.92,615.69 L468.15,615.38 L467.37,614.89 L466.59,614.28 L465.82,613.6 L465.04,614.28 L464.26,614.89 L463.49,615.38 L462.71,615.69 L461.93,615.8 L461.16,615.69 L460.38,615.38 L459.6,614.89 L458.83,614.28 L458.05,613.6 L457.27,614.28 L456.5,614.89 L455.72,615.38 L454.95,615.69 L454.17,615.8 L453.39,615.69 L452.62,615.38 L451.84,614.89 L451.06,614.28 L450.29,613.6 L449.51,614.28 L448.73,614.89 L447.96,615.38 L447.18,615.69 L446.4,615.8 L445.63,615.69 L444.85,615.38 L444.08,614.89 L443.3,614.28 L442.52,613.6 L441.75,614.28 L440.97,614.89 L440.19,615.38 L439.42,615.69 L438.64,615.8 L437.86,615.69 L437.09,615.38 L436.31,614.89 L435.53,614.28 L434.76,613.6 L433.98,614.28 L433.2,614.89 L432.43,615.38 L431.65,615.69 L430.88,615.8 L430.1,615.69 L429.32,615.38 L428.55,614.89 L427.77,614.28 L426.99,613.6 L426.22,614.28 L425.44,614.89 L424.66,615.38 L423.89,615.69 L423.11,615.8 L422.33,615.69 L421.56,615.38 L420.78,614.89 L420.01,614.28 L419.23,613.6 L418.45,614.28 L417.68,614.89 L416.9,615.38 L416.12,615.69 L415.35,615.8 L414.57,615.69 L413.79,615.38 L413.02,614.89 L412.24,614.28 L411.46,613.6 L410.69,614.28 L409.91,614.89 L409.14,615.38 L408.36,615.69 L407.58,615.8 L406.81,615.69 L406.03,615.38 L405.25,614.89 L404.48,614.28 L403.7,613.6 Z" fill="#FDFFE8"/><path d="M403.7,599.8 L404.48,599.94 L405.25,600.32 L406.03,600.78 L406.81,601.16 L407.58,601.3 L408.36,601.16 L409.14,600.78 L409.91,600.32 L410.69,599.94 L411.46,599.8 L412.24,599.94 L413.02,600.32 L413.79,600.78 L414.57,601.16 L415.35,601.3 L416.12,601.16 L416.9,600.78 L417.68,600.32 L418.45,599.94 L419.23,599.8 L420.01,599.94 L420.78,600.32 L421.56,600.78 L422.33,601.16 L423.11,601.3 L423.89,601.16 L424.66,600.78 L425.44,600.32 L426.22,599.94 L426.99,599.8 L427.77,599.94 L428.55,600.32 L429.32,600.78 L430.1,601.16 L430.88,601.3 L431.65,601.16 L432.43,600.78 L433.2,600.32 L433.98,599.94 L434.76,599.8 L435.53,599.94 L436.31,600.32 L437.09,600.78 L437.86,601.16 L438.64,601.3 L439.42,601.16 L440.19,600.78 L440.97,600.32 L441.75,599.94 L442.52,599.8 L443.3,599.94 L444.08,600.32 L444.85,600.78 L445.63,601.16 L446.4,601.3 L447.18,601.16 L447.96,600.78 L448.73,600.32 L449.51,599.94 L450.29,599.8 L451.06,599.94 L451.84,600.32 L452.62,600.78 L453.39,601.16 L454.17,601.3 L454.95,601.16 L455.72,600.78 L456.5,600.32 L457.27,599.94 L458.05,599.8 L458.83,599.94 L459.6,600.32 L460.38,600.78 L461.16,601.16 L461.93,601.3 L462.71,601.16 L463.49,600.78 L464.26,600.32 L465.04,599.94 L465.82,599.8 L466.59,599.94 L467.37,600.32 L468.15,600.78 L468.92,601.16 L469.7,601.3 L470.47,601.16 L471.25,600.78 L472.03,600.32 L472.8,599.94 L473.58,599.8 L474.36,599.94 L475.13,600.32 L475.91,600.78 L476.69,601.16 L477.46,601.3 L478.24,601.16 L479.02,600.78 L479.79,600.32 L480.57,599.94 L481.34,599.8 L482.12,599.94 L482.9,600.32 L483.67,600.78 L484.45,601.16 L485.23,601.3 L486,601.16 L486.78,600.78 L487.56,600.32 L488.33,599.94 L489.11,599.8 L489.89,599.94 L490.66,600.32 L491.44,600.78 L492.21,601.16 L492.99,601.3 L493.77,601.16 L494.54,600.78 L495.32,600.32 L496.1,599.94 L496.87,599.8 L497.65,599.94 L498.43,600.32 L499.2,600.78 L499.98,601.16 L500.76,601.3 L501.53,601.16 L502.31,600.78 L503.09,600.32 L503.86,599.94 L504.64,599.8 L505.41,599.94 L506.19,600.32 L506.97,600.78 L507.74,601.16 L508.52,601.3 L509.3,601.16 L510.07,600.78 L510.85,600.32 L511.63,599.94 L512.4,599.8 L513.18,599.94 L513.96,600.32 L514.73,600.78 L515.51,601.16 L516.28,601.3 L517.06,601.16 L517.84,600.78 L518.61,600.32 L519.39,599.94 L520.17,599.8 L520.94,599.94 L521.72,600.32 L522.5,600.78 L523.27,601.16 L524.05,601.3 L524.83,601.16 L525.6,600.78 L526.38,600.32 L527.16,599.94 L527.93,599.8 L528.71,599.94 L529.48,600.32 L530.26,600.78 L531.04,601.16 L531.81,601.3 L532.59,601.16 L533.37,600.78 L534.14,600.32 L534.92,599.94 L535.7,599.8 L536.47,599.94 L537.25,600.32 L538.03,600.78 L538.8,601.16 L539.58,601.3 L540.35,601.16 L541.13,600.78 L541.91,600.32 L542.68,599.94 L543.46,599.8 L544.24,599.94 L545.01,600.32 L545.79,600.78 L546.57,601.16 L547.34,601.3 L548.12,601.16 L548.9,600.78 L549.67,600.32 L550.45,599.94 L551.23,599.8 L552,599.94 L552.78,600.32 L553.55,600.78 L554.33,601.16 L555.11,601.3 L555.88,601.16 L556.66,600.78 L557.44,600.32 L558.21,599.94 L558.99,599.8 L559.77,599.94 L560.54,600.32 L561.32,600.78 L562.1,601.16 L562.87,601.3 L563.65,601.16 L564.42,600.78 L565.2,600.32 L565.98,599.94 L566.75,599.8 L567.53,599.94 L568.31,600.32 L569.08,600.78 L569.86,601.16 L570.64,601.3 L571.41,601.16 L572.19,600.78 L572.97,600.32 L573.74,599.94 L574.52,599.8 L575.29,599.94 L576.07,600.32 L576.85,600.78 L577.62,601.16 L578.4,601.3 L579.18,601.16 L579.95,600.78 L580.73,600.32 L581.51,599.94 L582.28,599.8 L583.06,599.94 L583.84,600.32 L584.61,600.78 L585.39,601.16 L586.17,601.3 L586.94,601.16 L587.72,600.78 L588.49,600.32 L589.27,599.94 L590.05,599.8 L590.82,599.94 L591.6,600.32 L592.38,600.78 L593.15,601.16 L593.93,601.3 L594.71,601.16 L595.48,600.78 L596.26,600.32 L597.04,599.94 L597.81,599.8 L598.59,599.94 L599.36,600.32 L600.14,600.78 L600.92,601.16 L601.69,601.3 L602.47,601.16 L603.25,600.78 L604.02,600.32 L604.8,599.94 L605.58,599.8 L606.35,599.94 L607.13,600.32 L607.91,600.78 L608.68,601.16 L609.46,601.3 L610.24,601.16 L611.01,600.78 L611.79,600.32 L612.56,599.94 L613.34,599.8 L614.12,599.94 L614.89,600.32 L615.67,600.78 L616.45,601.16 L617.22,601.3 L618,601.16 L618.78,600.78 L619.55,600.32 L620.33,599.94 L621.11,599.8 L621.88,599.94 L622.66,600.32 L623.43,600.78 L624.21,601.16 L624.99,601.3 L625.76,601.16 L626.54,600.78 L627.32,600.32 L628.09,599.94 L628.87,599.8 L629.65,599.94 L630.42,600.32 L631.2,600.78 L631.98,601.16 L632.75,601.3 L633.53,601.16 L634.3,600.78 L635.08,600.32 L635.86,599.94 L636.63,599.8 L637.41,599.94 L638.19,600.32 L638.96,600.78 L639.74,601.16 L640.52,601.3 L641.29,601.16 L642.07,600.78 L642.85,600.32 L643.62,599.94 L644.4,599.8 L645.18,599.94 L645.95,600.32 L646.73,600.78 L647.5,601.16 L648.28,601.3 L649.06,601.16 L649.83,600.78 L650.61,600.32 L651.39,599.94 L652.16,599.8 L652.94,599.94 L653.72,600.32 L654.49,600.78 L655.27,601.16 L656.05,601.3 L656.82,601.16 L657.6,600.78 L658.37,600.32 L659.15,599.94 L659.93,599.8 L660.7,599.94 L661.48,600.32 L662.26,600.78 L663.03,601.16 L663.81,601.3 L664.59,601.16 L665.36,600.78 L666.14,600.32 L666.92,599.94 L667.69,599.8 L668.47,599.94 L669.25,600.32 L670.02,600.78 L670.8,601.16 L671.57,601.3 L672.35,601.16 L673.13,600.78 L673.9,600.32 L674.68,599.94 L675.46,599.8 L676.23,599.94 L677.01,600.32 L677.79,600.78 L678.56,601.16 L679.34,601.3 L680.12,601.16 L680.89,600.78 L681.67,600.32 L682.44,599.94 L683.22,599.8 L684,599.94 L684.77,600.32 L685.55,600.78 L686.33,601.16 L687.1,601.3 L687.88,601.16 L688.66,600.78 L689.43,600.32 L690.21,599.94 L690.99,599.8 L691.76,599.94 L692.54,600.32 L693.31,600.78 L694.09,601.16 L694.87,601.3 L695.64,601.16 L696.42,600.78 L697.2,600.32 L697.97,599.94 L698.75,599.8 M403.7,613.6 L404.48,614.28 L405.25,614.89 L406.03,615.38 L406.81,615.69 L407.58,615.8 L408.36,615.69 L409.14,615.38 L409.91,614.89 L410.69,614.28 L411.46,613.6 L412.24,614.28 L413.02,614.89 L413.79,615.38 L414.57,615.69 L415.35,615.8 L416.12,615.69 L416.9,615.38 L417.68,614.89 L418.45,614.28 L419.23,613.6 L420.01,614.28 L420.78,614.89 L421.56,615.38 L422.33,615.69 L423.11,615.8 L423.89,615.69 L424.66,615.38 L425.44,614.89 L426.22,614.28 L426.99,613.6 L427.77,614.28 L428.55,614.89 L429.32,615.38 L430.1,615.69 L430.88,615.8 L431.65,615.69 L432.43,615.38 L433.2,614.89 L433.98,614.28 L434.76,613.6 L435.53,614.28 L436.31,614.89 L437.09,615.38 L437.86,615.69 L438.64,615.8 L439.42,615.69 L440.19,615.38 L440.97,614.89 L441.75,614.28 L442.52,613.6 L443.3,614.28 L444.08,614.89 L444.85,615.38 L445.63,615.69 L446.4,615.8 L447.18,615.69 L447.96,615.38 L448.73,614.89 L449.51,614.28 L450.29,613.6 L451.06,614.28 L451.84,614.89 L452.62,615.38 L453.39,615.69 L454.17,615.8 L454.95,615.69 L455.72,615.38 L456.5,614.89 L457.27,614.28 L458.05,613.6 L458.83,614.28 L459.6,614.89 L460.38,615.38 L461.16,615.69 L461.93,615.8 L462.71,615.69 L463.49,615.38 L464.26,614.89 L465.04,614.28 L465.82,613.6 L466.59,614.28 L467.37,614.89 L468.15,615.38 L468.92,615.69 L469.7,615.8 L470.47,615.69 L471.25,615.38 L472.03,614.89 L472.8,614.28 L473.58,613.6 L474.36,614.28 L475.13,614.89 L475.91,615.38 L476.69,615.69 L477.46,615.8 L478.24,615.69 L479.02,615.38 L479.79,614.89 L480.57,614.28 L481.34,613.6 L482.12,614.28 L482.9,614.89 L483.67,615.38 L484.45,615.69 L485.23,615.8 L486,615.69 L486.78,615.38 L487.56,614.89 L488.33,614.28 L489.11,613.6 L489.89,614.28 L490.66,614.89 L491.44,615.38 L492.21,615.69 L492.99,615.8 L493.77,615.69 L494.54,615.38 L495.32,614.89 L496.1,614.28 L496.87,613.6 L497.65,614.28 L498.43,614.89 L499.2,615.38 L499.98,615.69 L500.76,615.8 L501.53,615.69 L502.31,615.38 L503.09,614.89 L503.86,614.28 L504.64,613.6 L505.41,614.28 L506.19,614.89 L506.97,615.38 L507.74,615.69 L508.52,615.8 L509.3,615.69 L510.07,615.38 L510.85,614.89 L511.63,614.28 L512.4,613.6 L513.18,614.28 L513.96,614.89 L514.73,615.38 L515.51,615.69 L516.28,615.8 L517.06,615.69 L517.84,615.38 L518.61,614.89 L519.39,614.28 L520.17,613.6 L520.94,614.28 L521.72,614.89 L522.5,615.38 L523.27,615.69 L524.05,615.8 L524.83,615.69 L525.6,615.38 L526.38,614.89 L527.16,614.28 L527.93,613.6 L528.71,614.28 L529.48,614.89 L530.26,615.38 L531.04,615.69 L531.81,615.8 L532.59,615.69 L533.37,615.38 L534.14,614.89 L534.92,614.28 L535.7,613.6 L536.47,614.28 L537.25,614.89 L538.03,615.38 L538.8,615.69 L539.58,615.8 L540.35,615.69 L541.13,615.38 L541.91,614.89 L542.68,614.28 L543.46,613.6 L544.24,614.28 L545.01,614.89 L545.79,615.38 L546.57,615.69 L547.34,615.8 L548.12,615.69 L548.9,615.38 L549.67,614.89 L550.45,614.28 L551.23,613.6 L552,614.28 L552.78,614.89 L553.55,615.38 L554.33,615.69 L555.11,615.8 L555.88,615.69 L556.66,615.38 L557.44,614.89 L558.21,614.28 L558.99,613.6 L559.77,614.28 L560.54,614.89 L561.32,615.38 L562.1,615.69 L562.87,615.8 L563.65,615.69 L564.42,615.38 L565.2,614.89 L565.98,614.28 L566.75,613.6 L567.53,614.28 L568.31,614.89 L569.08,615.38 L569.86,615.69 L570.64,615.8 L571.41,615.69 L572.19,615.38 L572.97,614.89 L573.74,614.28 L574.52,613.6 L575.29,614.28 L576.07,614.89 L576.85,615.38 L577.62,615.69 L578.4,615.8 L579.18,615.69 L579.95,615.38 L580.73,614.89 L581.51,614.28 L582.28,613.6 L583.06,614.28 L583.84,614.89 L584.61,615.38 L585.39,615.69 L586.17,615.8 L586.94,615.69 L587.72,615.38 L588.49,614.89 L589.27,614.28 L590.05,613.6 L590.82,614.28 L591.6,614.89 L592.38,615.38 L593.15,615.69 L593.93,615.8 L594.71,615.69 L595.48,615.38 L596.26,614.89 L597.04,614.28 L597.81,613.6 L598.59,614.28 L599.36,614.89 L600.14,615.38 L600.92,615.69 L601.69,615.8 L602.47,615.69 L603.25,615.38 L604.02,614.89 L604.8,614.28 L605.58,613.6 L606.35,614.28 L607.13,614.89 L607.91,615.38 L608.68,615.69 L609.46,615.8 L610.24,615.69 L611.01,615.38 L611.79,614.89 L612.56,614.28 L613.34,613.6 L614.12,614.28 L614.89,614.89 L615.67,615.38 L616.45,615.69 L617.22,615.8 L618,615.69 L618.78,615.38 L619.55,614.89 L620.33,614.28 L621.11,613.6 L621.88,614.28 L622.66,614.89 L623.43,615.38 L624.21,615.69 L624.99,615.8 L625.76,615.69 L626.54,615.38 L627.32,614.89 L628.09,614.28 L628.87,613.6 L629.65,614.28 L630.42,614.89 L631.2,615.38 L631.98,615.69 L632.75,615.8 L633.53,615.69 L634.3,615.38 L635.08,614.89 L635.86,614.28 L636.63,613.6 L637.41,614.28 L638.19,614.89 L638.96,615.38 L639.74,615.69 L640.52,615.8 L641.29,615.69 L642.07,615.38 L642.85,614.89 L643.62,614.28 L644.4,613.6 L645.18,614.28 L645.95,614.89 L646.73,615.38 L647.5,615.69 L648.28,615.8 L649.06,615.69 L649.83,615.38 L650.61,614.89 L651.39,614.28 L652.16,613.6 L652.94,614.28 L653.72,614.89 L654.49,615.38 L655.27,615.69 L656.05,615.8 L656.82,615.69 L657.6,615.38 L658.37,614.89 L659.15,614.28 L659.93,613.6 L660.7,614.28 L661.48,614.89 L662.26,615.38 L663.03,615.69 L663.81,615.8 L664.59,615.69 L665.36,615.38 L666.14,614.89 L666.92,614.28 L667.69,613.6 L668.47,614.28 L669.25,614.89 L670.02,615.38 L670.8,615.69 L671.57,615.8 L672.35,615.69 L673.13,615.38 L673.9,614.89 L674.68,614.28 L675.46,613.6 L676.23,614.28 L677.01,614.89 L677.79,615.38 L678.56,615.69 L679.34,615.8 L680.12,615.69 L680.89,615.38 L681.67,614.89 L682.44,614.28 L683.22,613.6 L684,614.28 L684.77,614.89 L685.55,615.38 L686.33,615.69 L687.1,615.8 L687.88,615.69 L688.66,615.38 L689.43,614.89 L690.21,614.28 L690.99,613.6 L691.76,614.28 L692.54,614.89 L693.31,615.38 L694.09,615.69 L694.87,615.8 L695.64,615.69 L696.42,615.38 L697.2,614.89 L697.97,614.28 L698.75,613.6" fill="none" stroke="#111" stroke-width="2.1" stroke-linejoin="round"/><path d="M403.7,599.8L403.7,613.6M411.46,599.8L411.46,613.6M419.23,599.8L419.23,613.6M426.99,599.8L426.99,613.6M434.76,599.8L434.76,613.6M442.52,599.8L442.52,613.6M450.29,599.8L450.29,613.6M458.05,599.8L458.05,613.6M465.82,599.8L465.82,613.6M473.58,599.8L473.58,613.6M481.34,599.8L481.34,613.6M489.11,599.8L489.11,613.6M496.87,599.8L496.87,613.6M504.64,599.8L504.64,613.6M512.4,599.8L512.4,613.6M520.17,599.8L520.17,613.6M527.93,599.8L527.93,613.6M535.7,599.8L535.7,613.6M543.46,599.8L543.46,613.6M551.23,599.8L551.23,613.6M558.99,599.8L558.99,613.6M566.75,599.8L566.75,613.6M574.52,599.8L574.52,613.6M582.28,599.8L582.28,613.6M590.05,599.8L590.05,613.6M597.81,599.8L597.81,613.6M605.58,599.8L605.58,613.6M613.34,599.8L613.34,613.6M621.11,599.8L621.11,613.6M628.87,599.8L628.87,613.6M636.63,599.8L636.63,613.6M644.4,599.8L644.4,613.6M652.16,599.8L652.16,613.6M659.93,599.8L659.93,613.6M667.69,599.8L667.69,613.6M675.46,599.8L675.46,613.6M683.22,599.8L683.22,613.6M690.99,599.8L690.99,613.6M698.75,599.8L698.75,613.6" fill="none" stroke="#111" stroke-width="2.5"/><rect x="376.7" y="599.5" width="27" height="13.8" fill="#FDFFE8" stroke="#111" stroke-width="2"/><line x1="390.2" y1="600.5" x2="390.2" y2="612.3" stroke="#333" stroke-width="0.9"/><path d="M698.75,600.2L726.8,600.2M698.75,613.7L726.8,613.7" stroke="#111" stroke-width="1.8" fill="none"/><rect x="51.9" y="540.8" width="674.9" height="145.5" fill="none" stroke="#111" stroke-width="2.55"/><line x1="51.9" y1="649.35" x2="726.8" y2="649.35" stroke="#111" stroke-width="2.7"/><line x1="51.9" y1="636.5" x2="80.6" y2="636.5" stroke="#111" stroke-width="2"/><line x1="51.9" y1="622.8" x2="54.5" y2="622.8" stroke="#111" stroke-width="1.6"/><g transform="translate(727.5,605.8) rotate(1.76)" mask="url(#mr3)"><rect x="0" y="-4" width="84.54" height="8" fill="url(#braid)"/></g><g transform="translate(727.5,612.6) rotate(6.68)" mask="url(#mr3)"><rect x="0" y="-4" width="85.08" height="8" fill="url(#braid)"/></g><g transform="translate(67.3,506.2)"><circle r="23.3" fill="#FDFFE8" stroke="#111" stroke-width="2.4"/><path d="M-22.2,-7.6 L-12.9,-7.6 A13.2,13.2 0 0 0 9.8,-7.6 L22.2,-7.6 M-12.9,-7.6 L-12.9,12.6 M9.8,-7.6 L9.8,12.6 M-19.6,12.4 L-12.9,12.4 A11.35,6.2 0 0 0 9.8,12.4 L18.6,12.4" fill="none" stroke="#111" stroke-width="2.2"/><text x="-2.5" y="-7.2" text-anchor="middle" font-size="10.6" font-weight="bold" fill="#C00A1A" stroke="#C00A1A" stroke-width="0.1" textLength="26" lengthAdjust="spacingAndGlyphs">1cm</text></g><text x="94.8" y="525.6" font-size="16.3" font-weight="bold" fill="#C00A1A" stroke="#C00A1A" stroke-width="0.15" textLength="38.2" lengthAdjust="spacingAndGlyphs">72+2</text><path d="M70,531.25L70,607.5L75.6,607.5" fill="none" stroke="#C00A1A" stroke-width="2.2" stroke-linejoin="round"/><path d="M37.5,541.25L26.25,541.25L26.25,591.25M26.25,630.6L26.25,687.25L37.5,687.25" fill="none" stroke="#C00A1A" stroke-width="2.2" stroke-linejoin="round"/><text x="27.3" y="609.3" text-anchor="middle" font-size="16" font-weight="bold" fill="#C00A1A" stroke="#C00A1A" stroke-width="0.4" textLength="24" lengthAdjust="spacingAndGlyphs">2 0</text><text x="27.4" y="623.4" text-anchor="middle" font-size="15" font-weight="bold" fill="#C00A1A" stroke="#C00A1A" stroke-width="0.4" textLength="23.6" lengthAdjust="spacingAndGlyphs">cm</text><path d="M51.5,695.5L51.5,703L362.5,703M418.75,703L726.5,703L726.5,695.5" fill="none" stroke="#C00A1A" stroke-width="2.2" stroke-linejoin="round"/><text x="390.3" y="709.5" text-anchor="middle" font-size="15.2" font-weight="bold" fill="#C00A1A" stroke="#C00A1A" stroke-width="0.15" textLength="46.2" lengthAdjust="spacingAndGlyphs">82 cm</text>
</svg></body></html>
